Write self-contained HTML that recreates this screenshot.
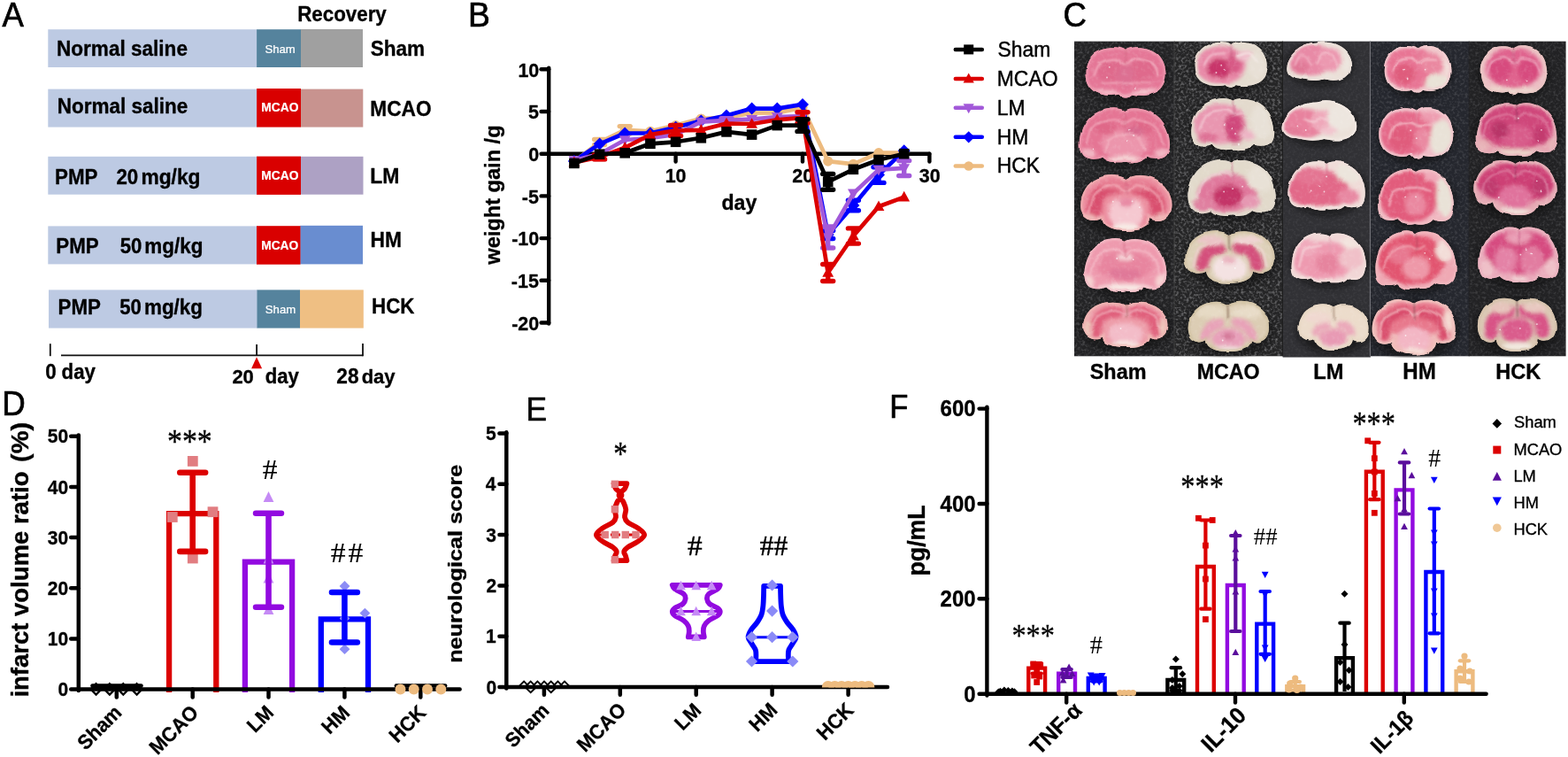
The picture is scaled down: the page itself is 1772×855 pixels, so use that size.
<!DOCTYPE html>
<html lang="en">
<head>
<meta charset="utf-8">
<title>Figure: PMP treatment in MCAO model</title>
<style>
html,body{margin:0;padding:0;background:#fff;}
body{width:1772px;height:855px;overflow:hidden;}
svg{display:block;}
text{white-space:pre;}
</style>
</head>
<body>
<svg width="1772" height="855" viewBox="0 0 1772 855">
<rect width="1772" height="855" fill="#fff"/>
<g id="panel-c">
<defs>
<filter id="cblur" x="-30%" y="-30%" width="160%" height="160%"><feGaussianBlur stdDeviation="2.3"/></filter>
<filter id="cband" x="-30%" y="-30%" width="160%" height="160%"><feGaussianBlur stdDeviation="0.9"/></filter>
<filter id="cedge" x="-2%" y="-2%" width="104%" height="104%"><feTurbulence type="fractalNoise" baseFrequency="0.045" numOctaves="2" seed="11" result="t"/><feDisplacementMap in="SourceGraphic" in2="t" scale="5" xChannelSelector="R" yChannelSelector="G" result="d"/><feGaussianBlur in="d" stdDeviation="0.7"/></filter>
<filter id="cgrain" x="0" y="0" width="100%" height="100%"><feTurbulence type="fractalNoise" baseFrequency="0.22" numOctaves="2" seed="3" result="n"/><feColorMatrix in="n" type="matrix" values="0 0 0 0 1  0 0 0 0 0.96  0 0 0 0 0.96  1.8 0 0 0 -0.82"/><feGaussianBlur stdDeviation="0.6"/></filter>
<filter id="cshadow" x="-30%" y="-30%" width="160%" height="160%"><feGaussianBlur stdDeviation="3.5"/></filter>
<filter id="cnoise" x="0" y="0" width="100%" height="100%"><feTurbulence type="fractalNoise" baseFrequency="0.34" numOctaves="2" seed="7" result="n"/><feColorMatrix in="n" type="matrix" values="0 0 0 0 0.56  0 0 0 0 0.56  0 0 0 0 0.58  2.4 0 0 0 -1.08"/><feGaussianBlur stdDeviation="0.45"/></filter>
<clipPath id="cpanel"><rect x="1214.0" y="46.4" width="555.6" height="357.4"/></clipPath>
<clipPath id="cb0"><path d="M1272.0 56.9C1277.5 51.7 1299.4 51.2 1309.4 62.1C1319.4 72.5 1320.3 91.0 1311.2 100.2C1303.0 108.3 1286.6 108.9 1279.3 106.6C1275.6 110.6 1268.4 110.6 1264.7 106.6C1257.4 108.9 1241.0 108.3 1232.8 100.2C1223.7 91.0 1224.6 72.5 1234.6 62.1C1244.6 51.2 1266.5 51.7 1272.0 56.9Z"/></clipPath>
<clipPath id="cb1"><path d="M1270.8 125.2C1279.1 119.5 1303.8 121.4 1315.1 138.9C1322.3 150.2 1324.4 166.4 1319.2 173.9C1315.1 180.8 1301.7 180.8 1295.5 177.7C1289.4 183.9 1277.0 183.9 1270.8 182.7C1264.7 183.9 1252.3 183.9 1246.2 177.7C1240.0 180.8 1226.6 180.8 1222.5 173.9C1217.3 166.4 1219.4 150.2 1226.6 138.9C1237.9 121.4 1262.6 119.5 1270.8 125.2Z"/></clipPath>
<clipPath id="cb2"><path d="M1272.3 202.1C1282.7 195.0 1307.6 196.3 1318.0 213.1C1326.3 226.1 1324.2 240.3 1318.0 245.5C1311.8 250.6 1303.5 249.4 1300.3 246.8C1299.3 258.4 1284.8 261.0 1272.3 261.0C1259.9 261.0 1245.4 258.4 1244.4 246.8C1241.2 249.4 1232.9 250.6 1226.7 245.5C1220.5 240.3 1218.4 226.1 1226.7 213.1C1237.1 196.3 1262.0 195.0 1272.3 202.1Z"/></clipPath>
<clipPath id="cb3"><path d="M1271.4 271.8C1278.8 266.1 1301.0 268.0 1311.1 285.5C1317.6 296.8 1319.4 313.0 1314.8 320.5C1311.1 327.4 1299.1 327.4 1293.6 324.2C1288.0 330.5 1276.9 330.5 1271.4 329.2C1265.9 330.5 1254.8 330.5 1249.2 324.2C1243.7 327.4 1231.7 327.4 1228.0 320.5C1223.4 313.0 1225.2 296.8 1231.7 285.5C1241.8 268.0 1264.0 266.1 1271.4 271.8Z"/></clipPath>
<clipPath id="cb4"><path d="M1272.3 344.1C1282.1 338.3 1305.5 339.4 1315.2 353.1C1323.0 363.6 1321.1 375.2 1315.2 379.4C1309.4 383.6 1301.6 382.5 1298.7 380.4C1297.7 389.9 1284.0 392.0 1272.3 392.0C1260.6 392.0 1247.0 389.9 1246.0 380.4C1243.1 382.5 1235.3 383.6 1229.4 379.4C1223.6 375.2 1221.6 363.6 1229.4 353.1C1239.2 339.4 1262.6 338.3 1272.3 344.1Z"/></clipPath>
<clipPath id="cb5"><path d="M1391.2 51.3C1396.1 46.7 1416.1 46.1 1425.2 56.0C1434.4 65.3 1435.2 82.0 1426.9 90.3C1419.4 97.5 1404.4 98.0 1397.8 96.0C1394.5 99.6 1387.8 99.6 1384.5 96.0C1377.9 98.0 1362.9 97.5 1355.4 90.3C1347.1 82.0 1347.9 65.3 1357.1 56.0C1366.2 46.1 1386.2 46.7 1391.2 51.3Z"/></clipPath>
<clipPath id="cb6"><path d="M1393.2 113.8C1400.8 108.4 1423.4 110.2 1433.8 126.9C1440.4 137.6 1442.3 153.1 1437.6 160.3C1433.8 166.8 1421.5 166.8 1415.9 163.8C1410.2 169.8 1398.9 169.8 1393.2 168.6C1387.6 169.8 1376.3 169.8 1370.6 163.8C1365.0 166.8 1352.7 166.8 1348.9 160.3C1344.2 153.1 1346.1 137.6 1352.7 126.9C1363.1 110.2 1385.7 108.4 1393.2 113.8Z"/></clipPath>
<clipPath id="cb7"><path d="M1392.1 183.8C1400.1 178.0 1424.0 179.9 1435.0 198.0C1442.0 209.7 1444.0 226.5 1439.0 234.2C1435.0 241.4 1422.0 241.4 1416.1 238.1C1410.1 244.6 1398.1 244.6 1392.1 243.3C1386.1 244.6 1374.1 244.6 1368.1 238.1C1362.2 241.4 1349.2 241.4 1345.2 234.2C1340.2 226.5 1342.2 209.7 1349.2 198.0C1360.2 179.9 1384.1 178.0 1392.1 183.8Z"/></clipPath>
<clipPath id="cb8"><path d="M1389.6 265.0C1399.7 258.4 1424.1 259.6 1434.3 275.3C1442.4 287.3 1440.4 300.6 1434.3 305.4C1428.2 310.3 1420.1 309.0 1417.0 306.6C1416.0 317.5 1401.8 319.9 1389.6 319.9C1377.3 319.9 1363.1 317.5 1362.1 306.6C1359.0 309.0 1350.9 310.3 1344.8 305.4C1338.7 300.6 1336.7 287.3 1344.8 275.3C1355.0 259.6 1379.4 258.4 1389.6 265.0Z"/></clipPath>
<clipPath id="cb9"><path d="M1388.3 344.3C1397.8 337.9 1420.5 339.1 1430.0 354.2C1437.6 365.8 1435.7 378.5 1430.0 383.2C1424.3 387.8 1416.8 386.7 1413.9 384.3C1413.0 394.8 1399.7 397.1 1388.3 397.1C1377.0 397.1 1363.7 394.8 1362.8 384.3C1359.9 386.7 1352.4 387.8 1346.7 383.2C1341.0 378.5 1339.1 365.8 1346.7 354.2C1356.2 339.1 1378.9 337.9 1388.3 344.3Z"/></clipPath>
<clipPath id="cb10"><path d="M1487.4 48.8C1499.9 45.2 1517.5 49.7 1524.0 62.3C1529.2 72.1 1527.7 82.9 1520.4 87.4C1513.1 91.9 1502.8 91.0 1495.5 89.2C1488.2 91.9 1476.5 91.0 1467.7 88.3C1458.9 87.4 1453.0 82.9 1454.5 74.8C1456.0 62.3 1469.1 49.7 1487.4 48.8Z"/></clipPath>
<clipPath id="cb11"><path d="M1487.2 115.5C1501.3 111.9 1521.3 116.5 1528.7 129.4C1534.6 139.5 1532.9 150.6 1524.6 155.2C1516.3 159.8 1504.6 158.9 1496.3 157.0C1488.0 159.8 1474.7 158.9 1464.8 156.1C1454.8 155.2 1448.1 150.6 1449.8 142.3C1451.5 129.4 1466.4 116.5 1487.2 115.5Z"/></clipPath>
<clipPath id="cb12"><path d="M1499.1 184.9C1506.1 179.8 1527.1 181.5 1536.8 197.3C1542.9 207.5 1544.7 222.2 1540.3 229.0C1536.8 235.2 1525.4 235.2 1520.1 232.3C1514.8 238.0 1504.3 238.0 1499.1 236.9C1493.8 238.0 1483.3 238.0 1478.0 232.3C1472.7 235.2 1461.3 235.2 1457.8 229.0C1453.4 222.2 1455.2 207.5 1461.3 197.3C1471.0 181.5 1492.0 179.8 1499.1 184.9Z"/></clipPath>
<clipPath id="cb13"><path d="M1501.8 266.0C1508.5 260.9 1528.9 262.6 1538.2 278.6C1544.1 289.0 1545.8 303.9 1541.6 310.7C1538.2 317.0 1527.2 317.0 1522.1 314.2C1517.0 319.9 1506.8 319.9 1501.8 318.8C1496.7 319.9 1486.5 319.9 1481.4 314.2C1476.3 317.0 1465.3 317.0 1461.9 310.7C1457.7 303.9 1459.4 289.0 1465.3 278.6C1474.6 262.6 1495.0 260.9 1501.8 266.0Z"/></clipPath>
<clipPath id="cb14"><path d="M1507.0 347.6C1515.0 341.9 1534.3 342.9 1542.3 356.4C1548.7 366.8 1547.1 378.2 1542.3 382.3C1537.5 386.5 1531.1 385.5 1528.7 383.4C1527.9 392.7 1516.6 394.8 1507.0 394.8C1497.4 394.8 1486.1 392.7 1485.3 383.4C1482.9 385.5 1476.5 386.5 1471.7 382.3C1466.9 378.2 1465.3 366.8 1471.7 356.4C1479.7 342.9 1499.0 341.9 1507.0 347.6Z"/></clipPath>
<clipPath id="cb15"><path d="M1602.1 55.5C1606.6 50.6 1624.5 50.1 1632.8 60.3C1641.0 70.0 1641.7 87.2 1634.3 95.8C1627.5 103.3 1614.1 103.9 1608.1 101.7C1605.1 105.5 1599.1 105.5 1596.1 101.7C1590.1 103.9 1576.7 103.3 1569.9 95.8C1562.5 87.2 1563.2 70.0 1571.4 60.3C1579.7 50.1 1597.6 50.6 1602.1 55.5Z"/></clipPath>
<clipPath id="cb16"><path d="M1600.8 124.8C1605.8 119.5 1625.7 118.9 1634.8 130.2C1644.0 140.8 1644.8 159.8 1636.5 169.2C1629.0 177.5 1614.1 178.1 1607.4 175.8C1604.1 179.9 1597.5 179.9 1594.2 175.8C1587.5 178.1 1572.6 177.5 1565.1 169.2C1556.8 159.8 1557.6 140.8 1566.8 130.2C1575.9 118.9 1595.8 119.5 1600.8 124.8Z"/></clipPath>
<clipPath id="cb17"><path d="M1600.0 194.1C1606.9 188.3 1627.5 190.2 1637.0 208.2C1643.0 219.7 1644.7 236.4 1640.4 244.1C1637.0 251.2 1625.8 251.2 1620.6 248.0C1615.5 254.4 1605.2 254.4 1600.0 253.1C1594.8 254.4 1584.5 254.4 1579.4 248.0C1574.2 251.2 1563.0 251.2 1559.6 244.1C1555.3 236.4 1557.0 219.7 1563.0 208.2C1572.5 190.2 1593.1 188.3 1600.0 194.1Z"/></clipPath>
<clipPath id="cb18"><path d="M1600.0 264.3C1607.3 258.3 1629.3 260.3 1639.4 278.8C1645.8 290.8 1647.6 308.0 1643.1 315.9C1639.4 323.2 1627.5 323.2 1622.0 319.9C1616.5 326.5 1605.5 326.5 1600.0 325.2C1594.5 326.5 1583.5 326.5 1578.0 319.9C1572.5 323.2 1560.6 323.2 1556.9 315.9C1552.4 308.0 1554.2 290.8 1560.6 278.8C1570.7 260.3 1592.7 258.3 1600.0 264.3Z"/></clipPath>
<clipPath id="cb19"><path d="M1598.1 342.7C1607.7 335.7 1630.9 337.0 1640.5 353.5C1648.2 366.3 1646.3 380.2 1640.5 385.3C1634.7 390.4 1627.0 389.2 1624.1 386.6C1623.2 398.1 1609.7 400.6 1598.1 400.6C1586.5 400.6 1573.0 398.1 1572.1 386.6C1569.2 389.2 1561.5 390.4 1555.7 385.3C1549.9 380.2 1548.0 366.3 1555.7 353.5C1565.3 337.0 1588.5 335.7 1598.1 342.7Z"/></clipPath>
<clipPath id="cb20"><path d="M1710.5 55.7C1715.0 50.6 1733.2 50.0 1741.5 60.8C1749.8 70.9 1750.6 89.1 1743.0 98.1C1736.2 106.0 1722.6 106.6 1716.5 104.3C1713.5 108.3 1707.5 108.3 1704.5 104.3C1698.4 106.6 1684.8 106.0 1678.0 98.1C1670.4 89.1 1671.2 70.9 1679.5 60.8C1687.8 50.0 1706.0 50.6 1710.5 55.7Z"/></clipPath>
<clipPath id="cb21"><path d="M1714.0 119.0C1721.5 113.5 1743.8 115.3 1754.0 132.4C1760.5 143.4 1762.4 159.3 1757.7 166.6C1754.0 173.3 1741.9 173.3 1736.3 170.3C1730.8 176.4 1719.6 176.4 1714.0 175.2C1708.5 176.4 1697.3 176.4 1691.8 170.3C1686.2 173.3 1674.1 173.3 1670.4 166.6C1665.7 159.3 1667.6 143.4 1674.1 132.4C1684.3 115.3 1706.6 113.5 1714.0 119.0Z"/></clipPath>
<clipPath id="cb22"><path d="M1712.5 186.0C1721.9 179.2 1744.3 180.4 1753.7 196.6C1761.2 209.1 1759.3 222.8 1753.7 227.7C1748.1 232.7 1740.6 231.5 1737.8 229.0C1736.8 240.2 1723.7 242.7 1712.5 242.7C1701.3 242.7 1688.2 240.2 1687.2 229.0C1684.4 231.5 1676.9 232.7 1671.3 227.7C1665.7 222.8 1663.8 209.1 1671.3 196.6C1680.7 180.4 1703.1 179.2 1712.5 186.0Z"/></clipPath>
<clipPath id="cb23"><path d="M1716.6 259.4C1723.9 253.7 1745.7 255.6 1755.7 273.5C1762.1 285.0 1763.9 301.6 1759.4 309.3C1755.7 316.3 1743.9 316.3 1738.4 313.1C1733.0 319.5 1722.1 319.5 1716.6 318.2C1711.1 319.5 1700.2 319.5 1694.8 313.1C1689.3 316.3 1677.5 316.3 1673.8 309.3C1669.3 301.6 1671.1 285.0 1677.5 273.5C1687.5 255.6 1709.3 253.7 1716.6 259.4Z"/></clipPath>
<clipPath id="cb24"><path d="M1714.2 340.7C1723.3 333.9 1744.9 335.1 1753.9 351.2C1761.1 363.6 1759.3 377.3 1753.9 382.2C1748.5 387.2 1741.3 385.9 1738.6 383.5C1737.7 394.6 1725.1 397.1 1714.2 397.1C1703.4 397.1 1690.8 394.6 1689.9 383.5C1687.2 385.9 1680.0 387.2 1674.6 382.2C1669.2 377.3 1667.4 363.6 1674.6 351.2C1683.6 335.1 1705.2 333.9 1714.2 340.7Z"/></clipPath>
</defs>
<g clip-path="url(#cpanel)">
<rect x="1214.0" y="46.4" width="113.5" height="355.9" fill="#232325"/>
<rect x="1327.0" y="46.4" width="123.1" height="355.9" fill="#252526"/>
<rect x="1449.6" y="46.4" width="99.3" height="357.3" fill="#313135"/>
<rect x="1548.4" y="46.4" width="112.1" height="355.9" fill="#25272e"/>
<rect x="1660.0" y="46.4" width="110.1" height="355.9" fill="#222224"/>
<rect x="1214.0" y="46.4" width="113" height="355.9" filter="url(#cnoise)" opacity="0.28"/>
<rect x="1327" y="46.4" width="122.6" height="355.9" filter="url(#cnoise)" opacity="0.5"/>
<rect x="1449.6" y="46.4" width="99" height="355.9" filter="url(#cnoise)" opacity="0.1"/>
<rect x="1548.4" y="46.4" width="221.2" height="355.9" filter="url(#cnoise)" opacity="0.2"/>
<path d="M1327 46.4V402.3" stroke="#474747" stroke-width="0.8"/>
<path d="M1449.4 46.4V402.3" stroke="#1e1e1e" stroke-width="1.2"/>
<path d="M1548.4 46.4V402.3" stroke="#7a7a80" stroke-width="1"/>
<path d="M1660 46.4V402.3" stroke="#222226" stroke-width="1.2" opacity="0.6"/>
<g filter="url(#cshadow)" opacity="0.6">
<ellipse cx="1272.0" cy="85.2" rx="47.1" ry="30.3" fill="#0c0c0c"/>
<ellipse cx="1270.8" cy="156.2" rx="52.9" ry="32.8" fill="#0c0c0c"/>
<ellipse cx="1272.3" cy="232.2" rx="53.4" ry="33.8" fill="#0c0c0c"/>
<ellipse cx="1271.4" cy="302.8" rx="47.7" ry="32.8" fill="#0c0c0c"/>
<ellipse cx="1272.3" cy="369.2" rx="50.2" ry="27.8" fill="#0c0c0c"/>
<ellipse cx="1391.2" cy="77.2" rx="43.1" ry="27.4" fill="#0c0c0c"/>
<ellipse cx="1393.2" cy="143.5" rx="48.7" ry="31.3" fill="#0c0c0c"/>
<ellipse cx="1392.1" cy="215.8" rx="51.4" ry="33.8" fill="#0c0c0c"/>
<ellipse cx="1389.6" cy="293.2" rx="52.4" ry="31.6" fill="#0c0c0c"/>
<ellipse cx="1388.3" cy="371.6" rx="48.9" ry="30.5" fill="#0c0c0c"/>
<ellipse cx="1491.1" cy="73.0" rx="38.1" ry="24.0" fill="#0c0c0c"/>
<ellipse cx="1491.3" cy="140.2" rx="43.1" ry="24.6" fill="#0c0c0c"/>
<ellipse cx="1499.1" cy="213.2" rx="45.4" ry="29.8" fill="#0c0c0c"/>
<ellipse cx="1501.8" cy="294.8" rx="43.8" ry="30.1" fill="#0c0c0c"/>
<ellipse cx="1507.0" cy="372.4" rx="41.6" ry="27.5" fill="#0c0c0c"/>
<ellipse cx="1602.1" cy="82.1" rx="38.9" ry="28.4" fill="#0c0c0c"/>
<ellipse cx="1600.8" cy="153.8" rx="43.0" ry="31.1" fill="#0c0c0c"/>
<ellipse cx="1600.0" cy="225.8" rx="44.5" ry="33.6" fill="#0c0c0c"/>
<ellipse cx="1600.0" cy="296.9" rx="47.3" ry="34.6" fill="#0c0c0c"/>
<ellipse cx="1598.1" cy="372.3" rx="49.7" ry="33.3" fill="#0c0c0c"/>
<ellipse cx="1710.5" cy="83.5" rx="39.3" ry="29.8" fill="#0c0c0c"/>
<ellipse cx="1714.0" cy="149.3" rx="48.0" ry="32.1" fill="#0c0c0c"/>
<ellipse cx="1712.5" cy="215.1" rx="48.3" ry="32.6" fill="#0c0c0c"/>
<ellipse cx="1716.6" cy="291.1" rx="47.0" ry="33.5" fill="#0c0c0c"/>
<ellipse cx="1714.2" cy="369.6" rx="46.5" ry="32.5" fill="#0c0c0c"/>
</g>
<g filter="url(#cedge)">
<g clip-path="url(#cb0)"><rect x="1224.4" y="50.9" width="95.2" height="61.7" fill="#e57797"/>
<g filter="url(#cblur)">
<ellipse cx="1253.8" cy="79.4" rx="15.5" ry="12.7" fill="#df6a8c"/>
<ellipse cx="1290.2" cy="79.4" rx="15.5" ry="12.7" fill="#df6a8c"/>
<ellipse cx="1272.0" cy="85.2" rx="9.1" ry="11.5" fill="#dd7092"/>
<ellipse cx="1249.2" cy="106.6" rx="18.2" ry="4.6" fill="#f4c8cf"/>
<ellipse cx="1294.8" cy="105.4" rx="18.2" ry="4.6" fill="#f4c8cf"/>
<ellipse cx="1272.0" cy="108.9" rx="9.1" ry="3.5" fill="#f1c2ca"/>
</g>
<g filter="url(#cband)" fill="none" stroke-linecap="round">
<path d="M1272.0 56.9C1277.5 51.7 1299.4 51.2 1309.4 62.1C1319.4 72.5 1320.3 91.0 1311.2 100.2C1303.0 108.3 1286.6 108.9 1279.3 106.6C1275.6 110.6 1268.4 110.6 1264.7 106.6C1257.4 108.9 1241.0 108.3 1232.8 100.2C1223.7 91.0 1224.6 72.5 1234.6 62.1C1244.6 51.2 1266.5 51.7 1272.0 56.9Z" stroke="#ee9cb0" stroke-width="4.5" opacity="0.85"/>
<path d="M1235.5 85.2C1236.7 82.9 1238.6 74.4 1242.8 71.4C1247.1 68.3 1256.2 66.4 1261.1 66.7C1265.9 67.1 1268.4 73.7 1272.0 73.7C1275.6 73.7 1278.1 67.1 1282.9 66.7C1287.8 66.4 1296.9 68.3 1301.2 71.4C1305.4 74.4 1307.3 82.9 1308.5 85.2" stroke="#f3aebf" stroke-width="2.0"/>
<path d="M1244.6 94.4C1249.2 94.3 1262.9 93.3 1272.0 93.3C1281.1 93.3 1294.8 94.3 1299.4 94.4" stroke="#f0a8ba" stroke-width="1.4"/>
<path d="M1272.0 54.1L1272.6 73.7" stroke="#d0607c" stroke-width="1.3" opacity="0.8"/>
</g>
<rect x="1224.4" y="50.9" width="95.2" height="61.7" filter="url(#cgrain)" opacity="0.16"/>
<circle cx="1251.0" cy="87.5" r="0.9" fill="#fff" opacity="0.7"/>
<circle cx="1282.9" cy="99.1" r="0.9" fill="#fff" opacity="0.7"/>
<circle cx="1253.8" cy="74.8" r="0.9" fill="#fff" opacity="0.7"/>
</g>
<g clip-path="url(#cb1)"><rect x="1217.4" y="119.4" width="106.9" height="66.5" fill="#e57594"/>
<g filter="url(#cblur)">
<ellipse cx="1270.8" cy="162.7" rx="26.8" ry="16.2" fill="#ec95ac"/>
<ellipse cx="1270.8" cy="180.8" rx="20.6" ry="4.4" fill="#f6d8d8"/>
<ellipse cx="1228.7" cy="173.9" rx="9.3" ry="6.2" fill="#f2b6c2"/>
<ellipse cx="1313.0" cy="173.9" rx="9.3" ry="6.2" fill="#f2b6c2"/>
<ellipse cx="1250.3" cy="143.9" rx="12.3" ry="7.5" fill="#df6888"/>
<ellipse cx="1291.4" cy="143.9" rx="12.3" ry="7.5" fill="#df6888"/>
<ellipse cx="1281.1" cy="149.5" rx="10.3" ry="5.0" fill="#d86a8e"/>
</g>
<g filter="url(#cband)" fill="none" stroke-linecap="round">
<path d="M1270.8 125.2C1279.1 119.5 1303.8 121.4 1315.1 138.9C1322.3 150.2 1324.4 166.4 1319.2 173.9C1315.1 180.8 1301.7 180.8 1295.5 177.7C1289.4 183.9 1277.0 183.9 1270.8 182.7C1264.7 183.9 1252.3 183.9 1246.2 177.7C1240.0 180.8 1226.6 180.8 1222.5 173.9C1217.3 166.4 1219.4 150.2 1226.6 138.9C1237.9 121.4 1262.6 119.5 1270.8 125.2Z" stroke="#ee9eb0" stroke-width="4.5" opacity="0.85"/>
<path d="M1227.6 162.7C1229.0 159.3 1230.4 147.2 1235.9 142.7C1241.4 138.1 1254.7 135.6 1260.6 135.2C1266.4 134.7 1267.4 140.2 1270.8 140.2C1274.3 140.2 1275.3 134.7 1281.1 135.2C1287.0 135.6 1300.3 138.1 1305.8 142.7C1311.3 147.2 1312.7 159.3 1314.1 162.7" stroke="#f2a8ba" stroke-width="1.8"/>
<path d="M1248.2 171.4C1249.2 168.9 1250.6 159.5 1254.4 156.4C1258.2 153.3 1265.4 152.7 1270.8 152.7C1276.3 152.7 1283.5 153.3 1287.3 156.4C1291.1 159.5 1292.5 168.9 1293.5 171.4" stroke="#f4b4c2" stroke-width="1.4"/>
<path d="M1270.8 122.7L1271.4 143.9" stroke="#d0607c" stroke-width="1.3" opacity="0.8"/>
</g>
<rect x="1217.4" y="119.4" width="106.9" height="66.5" filter="url(#cgrain)" opacity="0.16"/>
<circle cx="1276.0" cy="147.7" r="0.9" fill="#fff" opacity="0.7"/>
<circle cx="1281.1" cy="153.9" r="0.9" fill="#fff" opacity="0.7"/>
<circle cx="1234.8" cy="168.3" r="0.9" fill="#fff" opacity="0.7"/>
<circle cx="1272.9" cy="160.2" r="0.9" fill="#fff" opacity="0.7"/>
</g>
<g clip-path="url(#cb2)"><rect x="1218.5" y="194.3" width="107.7" height="68.7" fill="#ec8fa0"/>
<g filter="url(#cblur)">
<path d="M1262.0 211.8C1259.6 212.5 1251.4 213.3 1247.5 215.7C1243.5 218.1 1240.0 222.2 1238.1 226.1C1236.2 229.9 1236.4 236.8 1236.1 239.0" fill="none" stroke="#d9506e" stroke-width="15.6" stroke-linecap="round"/>
<path d="M1282.7 211.8C1285.1 212.5 1293.3 213.3 1297.2 215.7C1301.2 218.1 1304.7 222.2 1306.6 226.1C1308.5 229.9 1308.3 236.8 1308.6 239.0" fill="none" stroke="#d9506e" stroke-width="15.6" stroke-linecap="round"/>
<ellipse cx="1272.3" cy="209.2" rx="31.1" ry="6.5" fill="#e67a90"/>
<ellipse cx="1272.3" cy="240.3" rx="20.7" ry="16.8" fill="#f5c8d0"/>
<ellipse cx="1272.3" cy="228.7" rx="8.3" ry="5.2" fill="#e88aa4"/>
<ellipse cx="1272.3" cy="257.8" rx="16.6" ry="5.2" fill="#f8ece6"/>
<ellipse cx="1230.9" cy="248.1" rx="9.3" ry="6.5" fill="#f2bcbc"/>
<ellipse cx="1313.8" cy="248.1" rx="9.3" ry="6.5" fill="#f2bcbc"/>
</g>
<g filter="url(#cband)" fill="none" stroke-linecap="round">
<path d="M1272.3 202.1C1282.7 195.0 1307.6 196.3 1318.0 213.1C1326.3 226.1 1324.2 240.3 1318.0 245.5C1311.8 250.6 1303.5 249.4 1300.3 246.8C1299.3 258.4 1284.8 261.0 1272.3 261.0C1259.9 261.0 1245.4 258.4 1244.4 246.8C1241.2 249.4 1232.9 250.6 1226.7 245.5C1220.5 240.3 1218.4 226.1 1226.7 213.1C1237.1 196.3 1262.0 195.0 1272.3 202.1Z" stroke="#f0b0b2" stroke-width="4.5" opacity="0.85"/>
<path d="M1230.9 241.6C1231.9 237.9 1232.3 225.0 1237.1 219.6C1241.9 214.2 1254.0 209.9 1259.9 209.2C1265.8 208.6 1268.2 215.7 1272.3 215.7C1276.5 215.7 1278.9 208.6 1284.8 209.2C1290.7 209.9 1302.8 214.2 1307.6 219.6C1312.4 225.0 1312.8 237.9 1313.8 241.6" stroke="#f4b0ba" stroke-width="1.8"/>
<path d="M1272.3 197.6L1272.9 219.6" stroke="#d0607c" stroke-width="1.3" opacity="0.8"/>
</g>
<rect x="1218.5" y="194.3" width="107.7" height="68.7" filter="url(#cgrain)" opacity="0.16"/>
<circle cx="1257.8" cy="228.7" r="0.9" fill="#fff" opacity="0.7"/>
<circle cx="1278.6" cy="227.4" r="0.9" fill="#fff" opacity="0.7"/>
<circle cx="1288.9" cy="235.1" r="0.9" fill="#fff" opacity="0.7"/>
</g>
<g clip-path="url(#cb3)"><rect x="1223.2" y="266.0" width="96.4" height="66.5" fill="#ee9aae"/>
<g filter="url(#cblur)">
<ellipse cx="1271.4" cy="300.5" rx="31.4" ry="16.2" fill="#e8859f"/>
<ellipse cx="1271.4" cy="290.5" rx="9.2" ry="3.8" fill="#f6d4d8"/>
<ellipse cx="1271.4" cy="326.1" rx="31.4" ry="5.6" fill="#f8e8e4"/>
<ellipse cx="1230.7" cy="318.0" rx="6.5" ry="8.8" fill="#f6d2d2"/>
<ellipse cx="1312.1" cy="318.0" rx="6.5" ry="8.8" fill="#f6d2d2"/>
<ellipse cx="1271.4" cy="309.2" rx="18.5" ry="6.2" fill="#e07898"/>
</g>
<g filter="url(#cband)" fill="none" stroke-linecap="round">
<path d="M1271.4 271.8C1278.8 266.1 1301.0 268.0 1311.1 285.5C1317.6 296.8 1319.4 313.0 1314.8 320.5C1311.1 327.4 1299.1 327.4 1293.6 324.2C1288.0 330.5 1276.9 330.5 1271.4 329.2C1265.9 330.5 1254.8 330.5 1249.2 324.2C1243.7 327.4 1231.7 327.4 1228.0 320.5C1223.4 313.0 1225.2 296.8 1231.7 285.5C1241.8 268.0 1264.0 266.1 1271.4 271.8Z" stroke="#f4bcc6" stroke-width="4.5" opacity="0.85"/>
<path d="M1232.6 309.2C1233.8 305.9 1235.1 293.8 1240.0 289.2C1244.9 284.7 1256.9 282.2 1262.2 281.8C1267.4 281.3 1268.3 286.8 1271.4 286.8C1274.5 286.8 1275.4 281.3 1280.6 281.8C1285.9 282.2 1297.9 284.7 1302.8 289.2C1307.7 293.8 1309.0 305.9 1310.2 309.2" stroke="#f5bcc8" stroke-width="1.8"/>
<path d="M1271.4 269.2L1272.0 290.5" stroke="#d0607c" stroke-width="1.3" opacity="0.8"/>
</g>
<rect x="1223.2" y="266.0" width="96.4" height="66.5" filter="url(#cgrain)" opacity="0.16"/>
<circle cx="1262.2" cy="293.0" r="0.9" fill="#fff" opacity="0.7"/>
<circle cx="1280.6" cy="294.2" r="0.9" fill="#fff" opacity="0.7"/>
</g>
<g clip-path="url(#cb4)"><rect x="1221.6" y="337.4" width="101.5" height="56.6" fill="#ed9ca8"/>
<g filter="url(#cblur)">
<path d="M1262.6 352.0C1260.3 352.6 1252.7 353.3 1248.9 355.2C1245.2 357.1 1242.0 360.4 1240.2 363.6C1238.4 366.8 1238.5 372.4 1238.2 374.1" fill="none" stroke="#e0607c" stroke-width="13.7" stroke-linecap="round"/>
<path d="M1282.1 352.0C1284.4 352.6 1292.0 353.3 1295.8 355.2C1299.5 357.1 1302.7 360.4 1304.5 363.6C1306.3 366.8 1306.1 372.4 1306.5 374.1" fill="none" stroke="#e0607c" stroke-width="13.7" stroke-linecap="round"/>
<ellipse cx="1272.3" cy="377.3" rx="19.5" ry="12.6" fill="#f3bcc8"/>
<ellipse cx="1272.3" cy="389.9" rx="17.6" ry="4.2" fill="#f7e8e4"/>
<ellipse cx="1229.4" cy="371.0" rx="4.9" ry="10.5" fill="#eec4ba"/>
<ellipse cx="1315.2" cy="371.0" rx="4.9" ry="10.5" fill="#eec4ba"/>
</g>
<g filter="url(#cband)" fill="none" stroke-linecap="round">
<path d="M1272.3 344.1C1282.1 338.3 1305.5 339.4 1315.2 353.1C1323.0 363.6 1321.1 375.2 1315.2 379.4C1309.4 383.6 1301.6 382.5 1298.7 380.4C1297.7 389.9 1284.0 392.0 1272.3 392.0C1260.6 392.0 1247.0 389.9 1246.0 380.4C1243.1 382.5 1235.3 383.6 1229.4 379.4C1223.6 375.2 1221.6 363.6 1229.4 353.1C1239.2 339.4 1262.6 338.3 1272.3 344.1Z" stroke="#f0b8b4" stroke-width="4.5" opacity="0.85"/>
<path d="M1233.3 376.2C1234.3 373.2 1234.6 362.7 1239.2 358.3C1243.7 354.0 1255.1 350.4 1260.6 349.9C1266.2 349.4 1268.4 355.2 1272.3 355.2C1276.2 355.2 1278.5 349.4 1284.0 349.9C1289.6 350.4 1301.0 354.0 1305.5 358.3C1310.0 362.7 1310.4 373.2 1311.3 376.2" stroke="#f2b4be" stroke-width="1.6"/>
<path d="M1272.3 340.5L1272.9 358.3" stroke="#9c5a58" stroke-width="1.3" opacity="0.8"/>
</g>
<rect x="1221.6" y="337.4" width="101.5" height="56.6" filter="url(#cgrain)" opacity="0.16"/>
<circle cx="1267.5" cy="371.0" r="0.9" fill="#fff" opacity="0.7"/>
</g>
<g clip-path="url(#cb5)"><rect x="1347.6" y="45.7" width="87.1" height="55.9" fill="#e4dccf"/>
<g filter="url(#cblur)">
<ellipse cx="1379.5" cy="73.7" rx="28.3" ry="21.8" fill="#e88aa8"/>
<ellipse cx="1377.9" cy="76.8" rx="14.1" ry="10.9" fill="#c8356a"/>
<ellipse cx="1395.3" cy="71.6" rx="8.3" ry="12.5" fill="#d85a86"/>
<ellipse cx="1407.8" cy="63.3" rx="11.6" ry="6.2" fill="#efc0cc"/>
<ellipse cx="1420.2" cy="73.7" rx="10.0" ry="15.6" fill="#e8e0d6"/>
</g>
<g filter="url(#cband)" fill="none" stroke-linecap="round">
<path d="M1391.2 51.3C1396.1 46.7 1416.1 46.1 1425.2 56.0C1434.4 65.3 1435.2 82.0 1426.9 90.3C1419.4 97.5 1404.4 98.0 1397.8 96.0C1394.5 99.6 1387.8 99.6 1384.5 96.0C1377.9 98.0 1362.9 97.5 1355.4 90.3C1347.1 82.0 1347.9 65.3 1357.1 56.0C1366.2 46.1 1386.2 46.7 1391.2 51.3Z" stroke="#e6ddd2" stroke-width="4.5" opacity="0.85"/>
<path d="M1359.6 73.7C1361.0 71.7 1363.7 64.5 1367.9 62.2C1372.0 60.0 1381.7 60.5 1384.5 60.2" stroke="#f3c3d0" stroke-width="1.8"/>
<path d="M1397.8 63.3C1400.0 62.8 1407.2 58.9 1411.1 60.2C1415.0 61.4 1419.4 68.8 1421.1 70.5" stroke="#f6ece8" stroke-width="1.6"/>
<path d="M1391.2 48.7L1391.8 66.4" stroke="#c06080" stroke-width="1.3" opacity="0.8"/>
</g>
<rect x="1347.6" y="45.7" width="87.1" height="55.9" filter="url(#cgrain)" opacity="0.16"/>
<circle cx="1381.2" cy="73.7" r="0.9" fill="#fff" opacity="0.7"/>
<circle cx="1384.5" cy="78.8" r="0.9" fill="#fff" opacity="0.7"/>
<circle cx="1374.5" cy="82.0" r="0.9" fill="#fff" opacity="0.7"/>
</g>
<g clip-path="url(#cb6)"><rect x="1344.1" y="108.2" width="98.3" height="63.6" fill="#e3dacd"/>
<g filter="url(#cblur)">
<ellipse cx="1378.2" cy="140.0" rx="30.2" ry="22.6" fill="#e996b0"/>
<ellipse cx="1395.1" cy="144.8" rx="11.3" ry="16.7" fill="#d04a7c"/>
<ellipse cx="1365.0" cy="155.5" rx="11.3" ry="6.0" fill="#de7094"/>
<ellipse cx="1410.2" cy="151.9" rx="9.4" ry="6.0" fill="#edb4c4"/>
<ellipse cx="1426.3" cy="137.0" rx="13.2" ry="20.3" fill="#e8e1d7"/>
</g>
<g filter="url(#cband)" fill="none" stroke-linecap="round">
<path d="M1393.2 113.8C1400.8 108.4 1423.4 110.2 1433.8 126.9C1440.4 137.6 1442.3 153.1 1437.6 160.3C1433.8 166.8 1421.5 166.8 1415.9 163.8C1410.2 169.8 1398.9 169.8 1393.2 168.6C1387.6 169.8 1376.3 169.8 1370.6 163.8C1365.0 166.8 1352.7 166.8 1348.9 160.3C1344.2 153.1 1346.1 137.6 1352.7 126.9C1363.1 110.2 1385.7 108.4 1393.2 113.8Z" stroke="#e4dace" stroke-width="4.5" opacity="0.85"/>
<path d="M1355.5 146.0C1357.1 143.0 1359.9 131.7 1365.0 128.1C1370.0 124.5 1381.0 124.3 1385.7 124.5C1390.4 124.7 1390.4 128.7 1393.2 129.3C1396.1 129.9 1401.1 128.3 1402.7 128.1" stroke="#f4ccd6" stroke-width="1.8"/>
<path d="M1393.2 111.4L1393.8 131.7" stroke="#c46888" stroke-width="1.3" opacity="0.8"/>
</g>
<rect x="1344.1" y="108.2" width="98.3" height="63.6" filter="url(#cgrain)" opacity="0.16"/>
<circle cx="1393.2" cy="146.0" r="0.9" fill="#fff" opacity="0.7"/>
<circle cx="1397.0" cy="151.9" r="0.9" fill="#fff" opacity="0.7"/>
<circle cx="1398.9" cy="162.6" r="0.9" fill="#fff" opacity="0.7"/>
<circle cx="1383.8" cy="140.0" r="0.9" fill="#fff" opacity="0.7"/>
</g>
<g clip-path="url(#cb7)"><rect x="1340.2" y="177.9" width="103.8" height="68.7" fill="#e2dacb"/>
<g filter="url(#cblur)">
<ellipse cx="1387.1" cy="218.7" rx="33.9" ry="22.0" fill="#e0789c"/>
<ellipse cx="1388.1" cy="221.3" rx="17.0" ry="13.6" fill="#c43468"/>
<ellipse cx="1360.2" cy="231.7" rx="12.0" ry="6.5" fill="#e080a0"/>
<ellipse cx="1414.1" cy="228.4" rx="10.0" ry="7.8" fill="#e698b2"/>
<ellipse cx="1425.0" cy="200.6" rx="16.0" ry="15.5" fill="#e8e1d6"/>
</g>
<g filter="url(#cband)" fill="none" stroke-linecap="round">
<path d="M1392.1 183.8C1400.1 178.0 1424.0 179.9 1435.0 198.0C1442.0 209.7 1444.0 226.5 1439.0 234.2C1435.0 241.4 1422.0 241.4 1416.1 238.1C1410.1 244.6 1398.1 244.6 1392.1 243.3C1386.1 244.6 1374.1 244.6 1368.1 238.1C1362.2 241.4 1349.2 241.4 1345.2 234.2C1340.2 226.5 1342.2 209.7 1349.2 198.0C1360.2 179.9 1384.1 178.0 1392.1 183.8Z" stroke="#e2d9cc" stroke-width="4.5" opacity="0.85"/>
<path d="M1352.2 222.6C1353.8 219.2 1356.8 206.4 1362.2 201.9C1367.5 197.4 1379.1 195.6 1384.1 195.4C1389.1 195.2 1390.8 199.7 1392.1 200.6" stroke="#f2d0d8" stroke-width="1.6"/>
<path d="M1392.1 181.2L1392.7 203.2" stroke="#c46888" stroke-width="1.3" opacity="0.8"/>
</g>
<rect x="1340.2" y="177.9" width="103.8" height="68.7" filter="url(#cgrain)" opacity="0.16"/>
<circle cx="1382.1" cy="215.5" r="0.9" fill="#fff" opacity="0.7"/>
<circle cx="1392.1" cy="212.2" r="0.9" fill="#fff" opacity="0.7"/>
<circle cx="1404.1" cy="209.7" r="0.9" fill="#fff" opacity="0.7"/>
</g>
<g clip-path="url(#cb8)"><rect x="1336.7" y="257.6" width="105.7" height="64.3" fill="#ddd0b8"/>
<g filter="url(#cblur)">
<path d="M1379.4 280.1C1377.3 280.7 1370.4 281.7 1367.2 283.7C1364.0 285.7 1361.6 289.3 1360.1 292.2C1358.5 295.0 1358.4 299.2 1358.0 300.6" fill="none" stroke="#d4507c" stroke-width="13.2" stroke-linecap="round"/>
<path d="M1399.7 280.1C1401.8 280.7 1408.7 281.7 1411.9 283.7C1415.1 285.7 1417.5 289.3 1419.0 292.2C1420.6 295.0 1420.7 299.2 1421.1 300.6" fill="none" stroke="#d4507c" stroke-width="13.2" stroke-linecap="round"/>
<ellipse cx="1369.2" cy="271.7" rx="16.3" ry="4.8" fill="#ecc4c8"/>
<ellipse cx="1409.9" cy="271.7" rx="16.3" ry="4.8" fill="#f0d4d4"/>
<ellipse cx="1389.6" cy="303.0" rx="20.3" ry="14.5" fill="#f4e2e2"/>
<ellipse cx="1389.6" cy="293.4" rx="8.1" ry="4.8" fill="#eab4c0"/>
</g>
<g filter="url(#cband)" fill="none" stroke-linecap="round">
<path d="M1389.6 265.0C1399.7 258.4 1424.1 259.6 1434.3 275.3C1442.4 287.3 1440.4 300.6 1434.3 305.4C1428.2 310.3 1420.1 309.0 1417.0 306.6C1416.0 317.5 1401.8 319.9 1389.6 319.9C1377.3 319.9 1363.1 317.5 1362.1 306.6C1359.0 309.0 1350.9 310.3 1344.8 305.4C1338.7 300.6 1336.7 287.3 1344.8 275.3C1355.0 259.6 1379.4 258.4 1389.6 265.0Z" stroke="#d2c2a4" stroke-width="4.5" opacity="0.85"/>
<path d="M1348.9 300.6C1349.9 297.4 1350.2 285.9 1355.0 281.3C1359.7 276.7 1373.6 274.3 1377.3 272.9" stroke="#f0d0d0" stroke-width="2.0"/>
<path d="M1401.8 272.9C1405.5 274.3 1419.4 276.7 1424.1 281.3C1428.9 285.9 1429.2 297.4 1430.2 300.6" stroke="#f2dcd8" stroke-width="2.0"/>
<path d="M1389.6 260.8L1390.2 281.3" stroke="#6a4838" stroke-width="1.3" opacity="0.8"/>
</g>
<rect x="1336.7" y="257.6" width="105.7" height="64.3" filter="url(#cgrain)" opacity="0.16"/>
<circle cx="1381.4" cy="295.8" r="0.9" fill="#fff" opacity="0.7"/>
<circle cx="1395.7" cy="301.8" r="0.9" fill="#fff" opacity="0.7"/>
</g>
<g clip-path="url(#cb9)"><rect x="1339.0" y="337.1" width="98.7" height="62.0" fill="#dccdb4"/>
<g filter="url(#cblur)">
<path d="M1378.9 364.6C1377.3 365.2 1371.9 366.4 1369.4 368.1C1366.9 369.8 1365.0 372.9 1363.7 375.1C1362.5 377.2 1362.1 379.9 1361.8 380.9" fill="none" stroke="#e8a2b8" stroke-width="10.4" stroke-linecap="round"/>
<path d="M1397.8 364.6C1399.4 365.2 1404.8 366.4 1407.3 368.1C1409.8 369.8 1411.7 372.9 1413.0 375.1C1414.2 377.2 1414.6 379.9 1414.9 380.9" fill="none" stroke="#e8a2b8" stroke-width="10.4" stroke-linecap="round"/>
<ellipse cx="1388.3" cy="383.2" rx="18.9" ry="12.8" fill="#e8a0ba"/>
<ellipse cx="1388.3" cy="379.7" rx="6.6" ry="4.1" fill="#d47898"/>
<ellipse cx="1388.3" cy="394.8" rx="15.2" ry="3.5" fill="#f0e2de"/>
<ellipse cx="1369.4" cy="353.0" rx="17.0" ry="7.0" fill="#e6dac4"/>
<ellipse cx="1409.2" cy="353.0" rx="17.0" ry="7.0" fill="#e8dcc8"/>
</g>
<g filter="url(#cband)" fill="none" stroke-linecap="round">
<path d="M1388.3 344.3C1397.8 337.9 1420.5 339.1 1430.0 354.2C1437.6 365.8 1435.7 378.5 1430.0 383.2C1424.3 387.8 1416.8 386.7 1413.9 384.3C1413.0 394.8 1399.7 397.1 1388.3 397.1C1377.0 397.1 1363.7 394.8 1362.8 384.3C1359.9 386.7 1352.4 387.8 1346.7 383.2C1341.0 378.5 1339.1 365.8 1346.7 354.2C1356.2 339.1 1378.9 337.9 1388.3 344.3Z" stroke="#cfbfa0" stroke-width="4.5" opacity="0.85"/>
<path d="M1388.3 340.3L1388.9 360.0" stroke="#6a4838" stroke-width="1.3" opacity="0.8"/>
</g>
<rect x="1339.0" y="337.1" width="98.7" height="62.0" filter="url(#cgrain)" opacity="0.16"/>
<circle cx="1382.7" cy="385.5" r="0.9" fill="#fff" opacity="0.7"/>
</g>
<g clip-path="url(#cb10)"><rect x="1452.5" y="45.0" width="77.2" height="48.9" fill="#ebe0d8"/>
<g filter="url(#cblur)">
<ellipse cx="1480.9" cy="67.7" rx="24.9" ry="18.0" fill="#e88aa6"/>
<ellipse cx="1502.8" cy="67.7" rx="13.2" ry="13.5" fill="#ec98b0"/>
<ellipse cx="1469.1" cy="76.6" rx="10.2" ry="7.2" fill="#e07896"/>
<ellipse cx="1483.8" cy="90.1" rx="29.3" ry="3.1" fill="#ede6df"/>
<ellipse cx="1522.6" cy="67.2" rx="5.1" ry="13.5" fill="#ece5de"/>
</g>
<g filter="url(#cband)" fill="none" stroke-linecap="round">
<path d="M1487.4 48.8C1499.9 45.2 1517.5 49.7 1524.0 62.3C1529.2 72.1 1527.7 82.9 1520.4 87.4C1513.1 91.9 1502.8 91.0 1495.5 89.2C1488.2 91.9 1476.5 91.0 1467.7 88.3C1458.9 87.4 1453.0 82.9 1454.5 74.8C1456.0 62.3 1469.1 49.7 1487.4 48.8Z" stroke="#ebe1d9" stroke-width="4.5" opacity="0.85"/>
<path d="M1463.3 73.9C1464.3 72.1 1466.9 64.7 1469.1 63.2C1471.3 61.7 1474.3 63.2 1476.5 65.0C1478.7 66.8 1481.3 72.4 1482.3 73.9" stroke="#f3b8c8" stroke-width="1.6"/>
<path d="M1488.2 72.1C1489.4 70.5 1492.6 63.8 1495.5 62.3C1498.4 60.8 1503.1 61.2 1505.7 63.2C1508.4 65.1 1510.6 72.1 1511.6 73.9" stroke="#f4c2ce" stroke-width="1.6"/>
</g>
<rect x="1452.5" y="45.0" width="77.2" height="48.9" filter="url(#cgrain)" opacity="0.16"/>
</g>
<g clip-path="url(#cb11)"><rect x="1447.8" y="111.7" width="87.1" height="50.1" fill="#ebe1d9"/>
<g filter="url(#cblur)">
<ellipse cx="1473.1" cy="139.5" rx="24.9" ry="16.6" fill="#e8829e"/>
<ellipse cx="1461.4" cy="147.8" rx="10.0" ry="5.5" fill="#e47c98"/>
<ellipse cx="1493.0" cy="136.8" rx="11.6" ry="11.1" fill="#efa8ba"/>
<ellipse cx="1514.6" cy="133.1" rx="15.0" ry="13.8" fill="#ede6df"/>
<ellipse cx="1501.3" cy="147.8" rx="10.0" ry="4.6" fill="#f2c4ce"/>
</g>
<g filter="url(#cband)" fill="none" stroke-linecap="round">
<path d="M1487.2 115.5C1501.3 111.9 1521.3 116.5 1528.7 129.4C1534.6 139.5 1532.9 150.6 1524.6 155.2C1516.3 159.8 1504.6 158.9 1496.3 157.0C1488.0 159.8 1474.7 158.9 1464.8 156.1C1454.8 155.2 1448.1 150.6 1449.8 142.3C1451.5 129.4 1466.4 116.5 1487.2 115.5Z" stroke="#f3eae4" stroke-width="4.5" opacity="0.85"/>
<path d="M1474.7 134.0C1476.4 134.4 1481.9 136.8 1484.7 136.8C1487.5 136.8 1488.6 134.0 1491.3 134.0C1494.1 134.0 1499.7 136.3 1501.3 136.8" stroke="#f6d4da" stroke-width="1.6"/>
</g>
<rect x="1447.8" y="111.7" width="87.1" height="50.1" filter="url(#cgrain)" opacity="0.16"/>
<circle cx="1466.4" cy="142.3" r="0.9" fill="#fff" opacity="0.7"/>
<circle cx="1474.7" cy="146.0" r="0.9" fill="#fff" opacity="0.7"/>
</g>
<g clip-path="url(#cb12)"><rect x="1453.2" y="179.5" width="91.7" height="60.5" fill="#f0dcd8"/>
<g filter="url(#cblur)">
<ellipse cx="1490.3" cy="214.3" rx="35.1" ry="22.6" fill="#e26888"/>
<ellipse cx="1523.6" cy="222.2" rx="12.3" ry="9.0" fill="#e888a2"/>
<ellipse cx="1481.5" cy="198.4" rx="19.3" ry="9.0" fill="#e47492"/>
<ellipse cx="1525.4" cy="195.1" rx="15.8" ry="11.3" fill="#ece5dc"/>
<ellipse cx="1490.3" cy="235.7" rx="26.3" ry="3.4" fill="#f6e8e4"/>
</g>
<g filter="url(#cband)" fill="none" stroke-linecap="round">
<path d="M1499.1 184.9C1506.1 179.8 1527.1 181.5 1536.8 197.3C1542.9 207.5 1544.7 222.2 1540.3 229.0C1536.8 235.2 1525.4 235.2 1520.1 232.3C1514.8 238.0 1504.3 238.0 1499.1 236.9C1493.8 238.0 1483.3 238.0 1478.0 232.3C1472.7 235.2 1461.3 235.2 1457.8 229.0C1453.4 222.2 1455.2 207.5 1461.3 197.3C1471.0 181.5 1492.0 179.8 1499.1 184.9Z" stroke="#f0e0dc" stroke-width="4.5" opacity="0.85"/>
<path d="M1499.1 182.6L1499.7 201.8" stroke="#d46888" stroke-width="1.3" opacity="0.8"/>
</g>
<rect x="1453.2" y="179.5" width="91.7" height="60.5" filter="url(#cgrain)" opacity="0.16"/>
<circle cx="1490.3" cy="209.8" r="0.9" fill="#fff" opacity="0.7"/>
<circle cx="1495.5" cy="216.5" r="0.9" fill="#fff" opacity="0.7"/>
<circle cx="1481.5" cy="215.4" r="0.9" fill="#fff" opacity="0.7"/>
<circle cx="1499.1" cy="198.4" r="0.9" fill="#fff" opacity="0.7"/>
</g>
<g clip-path="url(#cb13)"><rect x="1457.4" y="260.6" width="88.7" height="61.3" fill="#f1d6d6"/>
<g filter="url(#cblur)">
<ellipse cx="1495.0" cy="294.1" rx="33.9" ry="21.8" fill="#ee9ab0"/>
<ellipse cx="1500.1" cy="298.1" rx="13.6" ry="11.5" fill="#e6849e"/>
<ellipse cx="1527.2" cy="291.2" rx="13.6" ry="12.6" fill="#f0c0c8"/>
<ellipse cx="1476.3" cy="279.8" rx="13.6" ry="9.2" fill="#f0aabc"/>
<ellipse cx="1527.2" cy="274.1" rx="11.9" ry="6.9" fill="#f3e4de"/>
</g>
<g filter="url(#cband)" fill="none" stroke-linecap="round">
<path d="M1501.8 266.0C1508.5 260.9 1528.9 262.6 1538.2 278.6C1544.1 289.0 1545.8 303.9 1541.6 310.7C1538.2 317.0 1527.2 317.0 1522.1 314.2C1517.0 319.9 1506.8 319.9 1501.8 318.8C1496.7 319.9 1486.5 319.9 1481.4 314.2C1476.3 317.0 1465.3 317.0 1461.9 310.7C1457.7 303.9 1459.4 289.0 1465.3 278.6C1474.6 262.6 1495.0 260.9 1501.8 266.0Z" stroke="#f2e0dc" stroke-width="4.5" opacity="0.85"/>
<path d="M1467.9 300.4C1469.0 297.4 1470.4 286.1 1474.6 282.1C1478.9 278.1 1490.2 277.3 1493.3 276.4" stroke="#f6d8dc" stroke-width="1.6"/>
<path d="M1501.8 263.7L1502.3 283.2" stroke="#e0a0b0" stroke-width="1.3" opacity="0.8"/>
</g>
<rect x="1457.4" y="260.6" width="88.7" height="61.3" filter="url(#cgrain)" opacity="0.16"/>
</g>
<g clip-path="url(#cb14)"><rect x="1464.9" y="340.9" width="84.2" height="55.9" fill="#ecdccb"/>
<g filter="url(#cblur)">
<path d="M1499.0 366.8C1497.6 367.3 1493.0 368.3 1491.0 369.9C1489.0 371.4 1487.6 375.1 1487.0 376.1" fill="none" stroke="#eba8ba" stroke-width="8.8" stroke-linecap="round"/>
<path d="M1515.0 366.8C1516.4 367.3 1521.0 368.3 1523.0 369.9C1525.0 371.4 1526.4 375.1 1527.0 376.1" fill="none" stroke="#eba8ba" stroke-width="8.8" stroke-linecap="round"/>
<ellipse cx="1507.0" cy="381.3" rx="16.0" ry="10.4" fill="#e89ab4"/>
<ellipse cx="1489.4" cy="358.5" rx="14.4" ry="6.2" fill="#f0d8d0"/>
<ellipse cx="1507.0" cy="392.7" rx="12.8" ry="2.6" fill="#f0dcd8"/>
</g>
<g filter="url(#cband)" fill="none" stroke-linecap="round">
<path d="M1507.0 347.6C1515.0 341.9 1534.3 342.9 1542.3 356.4C1548.7 366.8 1547.1 378.2 1542.3 382.3C1537.5 386.5 1531.1 385.5 1528.7 383.4C1527.9 392.7 1516.6 394.8 1507.0 394.8C1497.4 394.8 1486.1 392.7 1485.3 383.4C1482.9 385.5 1476.5 386.5 1471.7 382.3C1466.9 378.2 1465.3 366.8 1471.7 356.4C1479.7 342.9 1499.0 341.9 1507.0 347.6Z" stroke="#e6d6c2" stroke-width="4.5" opacity="0.85"/>
<path d="M1507.0 343.9L1507.6 361.6" stroke="#8a6a58" stroke-width="1.3" opacity="0.8"/>
</g>
<rect x="1464.9" y="340.9" width="84.2" height="55.9" filter="url(#cgrain)" opacity="0.16"/>
</g>
<g clip-path="url(#cb15)"><rect x="1562.7" y="49.7" width="78.8" height="57.8" fill="#f0c6ca"/>
<g filter="url(#cblur)">
<ellipse cx="1593.1" cy="77.5" rx="28.4" ry="23.7" fill="#e87494"/>
<ellipse cx="1587.1" cy="84.0" rx="12.0" ry="11.8" fill="#df5c7c"/>
<ellipse cx="1617.1" cy="72.1" rx="13.5" ry="11.8" fill="#ea88a0"/>
<ellipse cx="1624.5" cy="93.7" rx="13.5" ry="10.8" fill="#e9e2d6"/>
<ellipse cx="1635.0" cy="75.9" rx="4.5" ry="10.8" fill="#f2dcd8"/>
</g>
<g filter="url(#cband)" fill="none" stroke-linecap="round">
<path d="M1602.1 55.5C1606.6 50.6 1624.5 50.1 1632.8 60.3C1641.0 70.0 1641.7 87.2 1634.3 95.8C1627.5 103.3 1614.1 103.9 1608.1 101.7C1605.1 105.5 1599.1 105.5 1596.1 101.7C1590.1 103.9 1576.7 103.3 1569.9 95.8C1562.5 87.2 1563.2 70.0 1571.4 60.3C1579.7 50.1 1597.6 50.6 1602.1 55.5Z" stroke="#f2ccd0" stroke-width="4.5" opacity="0.85"/>
<path d="M1573.7 78.6C1574.9 76.8 1577.4 70.0 1581.2 67.8C1584.9 65.7 1592.6 65.0 1596.1 65.7C1599.6 66.4 1599.9 71.8 1602.1 72.1C1604.3 72.5 1606.1 68.6 1609.6 67.8C1613.1 67.1 1620.8 67.8 1623.0 67.8" stroke="#f6c4ce" stroke-width="1.8"/>
<path d="M1602.1 52.8L1602.7 71.1" stroke="#e090a4" stroke-width="1.3" opacity="0.8"/>
</g>
<rect x="1562.7" y="49.7" width="78.8" height="57.8" filter="url(#cgrain)" opacity="0.16"/>
<circle cx="1587.1" cy="78.6" r="0.9" fill="#fff" opacity="0.7"/>
<circle cx="1591.6" cy="89.4" r="0.9" fill="#fff" opacity="0.7"/>
<circle cx="1609.6" cy="78.6" r="0.9" fill="#fff" opacity="0.7"/>
</g>
<g clip-path="url(#cb16)"><rect x="1557.3" y="118.7" width="87.0" height="63.2" fill="#f0bcc6"/>
<g filter="url(#cblur)">
<ellipse cx="1589.2" cy="150.3" rx="29.9" ry="26.0" fill="#e56a8a"/>
<ellipse cx="1584.2" cy="156.2" rx="13.3" ry="13.0" fill="#e05c7c"/>
<ellipse cx="1607.4" cy="156.2" rx="8.3" ry="11.8" fill="#ea8aa2"/>
<ellipse cx="1629.8" cy="156.2" rx="13.3" ry="21.3" fill="#e9e2d7"/>
<ellipse cx="1617.4" cy="132.5" rx="11.6" ry="5.9" fill="#ee9cb0"/>
</g>
<g filter="url(#cband)" fill="none" stroke-linecap="round">
<path d="M1600.8 124.8C1605.8 119.5 1625.7 118.9 1634.8 130.2C1644.0 140.8 1644.8 159.8 1636.5 169.2C1629.0 177.5 1614.1 178.1 1607.4 175.8C1604.1 179.9 1597.5 179.9 1594.2 175.8C1587.5 178.1 1572.6 177.5 1565.1 169.2C1556.8 159.8 1557.6 140.8 1566.8 130.2C1575.9 118.9 1595.8 119.5 1600.8 124.8Z" stroke="#f2c6cc" stroke-width="4.5" opacity="0.85"/>
<path d="M1570.9 156.2C1572.0 153.9 1573.7 145.0 1577.6 142.0C1581.4 139.1 1590.0 138.5 1594.2 138.5C1598.3 138.5 1598.6 141.4 1602.5 142.0C1606.3 142.6 1614.9 142.0 1617.4 142.0" stroke="#f6c6ce" stroke-width="1.8"/>
<path d="M1600.8 121.9L1601.4 142.0" stroke="#e090a4" stroke-width="1.3" opacity="0.8"/>
</g>
<rect x="1557.3" y="118.7" width="87.0" height="63.2" filter="url(#cgrain)" opacity="0.16"/>
<circle cx="1594.2" cy="147.3" r="0.9" fill="#fff" opacity="0.7"/>
<circle cx="1600.8" cy="156.2" r="0.9" fill="#fff" opacity="0.7"/>
<circle cx="1595.8" cy="174.0" r="0.9" fill="#fff" opacity="0.7"/>
</g>
<g clip-path="url(#cb17)"><rect x="1555.0" y="188.2" width="90.0" height="68.2" fill="#f0b6c0"/>
<g filter="url(#cblur)">
<ellipse cx="1591.4" cy="222.3" rx="34.4" ry="29.5" fill="#e25c7c"/>
<ellipse cx="1600.0" cy="230.0" rx="12.0" ry="12.8" fill="#ea88a0"/>
<ellipse cx="1633.5" cy="222.3" rx="10.3" ry="24.4" fill="#e9e2d7"/>
<ellipse cx="1618.9" cy="200.5" rx="10.3" ry="5.1" fill="#f0a8b8"/>
</g>
<g filter="url(#cband)" fill="none" stroke-linecap="round">
<path d="M1600.0 194.1C1606.9 188.3 1627.5 190.2 1637.0 208.2C1643.0 219.7 1644.7 236.4 1640.4 244.1C1637.0 251.2 1625.8 251.2 1620.6 248.0C1615.5 254.4 1605.2 254.4 1600.0 253.1C1594.8 254.4 1584.5 254.4 1579.4 248.0C1574.2 251.2 1563.0 251.2 1559.6 244.1C1555.3 236.4 1557.0 219.7 1563.0 208.2C1572.5 190.2 1593.1 188.3 1600.0 194.1Z" stroke="#f2c0c6" stroke-width="4.5" opacity="0.85"/>
<path d="M1569.0 232.6C1570.2 229.8 1570.8 219.3 1575.9 215.9C1581.1 212.5 1593.1 212.0 1600.0 212.0C1606.9 212.0 1614.3 215.2 1617.2 215.9" stroke="#f4bcc8" stroke-width="1.8"/>
<path d="M1600.0 191.5L1600.6 213.3" stroke="#d87890" stroke-width="1.3" opacity="0.8"/>
</g>
<rect x="1555.0" y="188.2" width="90.0" height="68.2" filter="url(#cgrain)" opacity="0.16"/>
<circle cx="1588.0" cy="222.3" r="0.9" fill="#fff" opacity="0.7"/>
<circle cx="1600.0" cy="222.3" r="0.9" fill="#fff" opacity="0.7"/>
</g>
<g clip-path="url(#cb18)"><rect x="1552.2" y="258.3" width="95.6" height="70.2" fill="#efa9b4"/>
<g filter="url(#cblur)">
<ellipse cx="1595.4" cy="293.4" rx="38.5" ry="27.8" fill="#e2546f"/>
<ellipse cx="1600.0" cy="302.7" rx="14.7" ry="13.2" fill="#ee98a8"/>
<ellipse cx="1633.0" cy="281.5" rx="11.0" ry="13.2" fill="#f3ddd8"/>
<ellipse cx="1581.7" cy="286.8" rx="12.8" ry="10.6" fill="#e87890"/>
</g>
<g filter="url(#cband)" fill="none" stroke-linecap="round">
<path d="M1600.0 264.3C1607.3 258.3 1629.3 260.3 1639.4 278.8C1645.8 290.8 1647.6 308.0 1643.1 315.9C1639.4 323.2 1627.5 323.2 1622.0 319.9C1616.5 326.5 1605.5 326.5 1600.0 325.2C1594.5 326.5 1583.5 326.5 1578.0 319.9C1572.5 323.2 1560.6 323.2 1556.9 315.9C1552.4 308.0 1554.2 290.8 1560.6 278.8C1570.7 260.3 1592.7 258.3 1600.0 264.3Z" stroke="#f2b8be" stroke-width="4.5" opacity="0.85"/>
<path d="M1563.4 304.0C1564.9 300.9 1567.9 289.6 1572.5 285.5C1577.1 281.3 1586.3 279.3 1590.8 278.8C1595.4 278.4 1596.9 282.8 1600.0 282.8C1603.1 282.8 1607.6 279.5 1609.2 278.8" stroke="#f2a8b4" stroke-width="1.8"/>
<path d="M1600.0 261.6L1600.6 284.1" stroke="#b04860" stroke-width="1.3" opacity="0.8"/>
</g>
<rect x="1552.2" y="258.3" width="95.6" height="70.2" filter="url(#cgrain)" opacity="0.16"/>
<circle cx="1609.2" cy="286.8" r="0.9" fill="#fff" opacity="0.7"/>
<circle cx="1614.7" cy="293.4" r="0.9" fill="#fff" opacity="0.7"/>
<circle cx="1618.3" cy="289.4" r="0.9" fill="#fff" opacity="0.7"/>
</g>
<g clip-path="url(#cb19)"><rect x="1547.9" y="335.0" width="100.4" height="67.6" fill="#f0b8b8"/>
<g filter="url(#cblur)">
<ellipse cx="1598.1" cy="359.9" rx="44.3" ry="19.1" fill="#e8788c"/>
<path d="M1588.5 352.3C1586.2 352.9 1578.7 353.7 1575.0 356.1C1571.3 358.4 1568.1 362.4 1566.3 366.3C1564.5 370.1 1564.7 376.9 1564.4 379.0" fill="none" stroke="#d94e6c" stroke-width="12.5" stroke-linecap="round"/>
<path d="M1607.7 352.3C1610.0 352.9 1617.5 353.7 1621.2 356.1C1624.9 358.4 1628.1 362.4 1629.9 366.3C1631.7 370.1 1631.5 376.9 1631.8 379.0" fill="none" stroke="#d94e6c" stroke-width="12.5" stroke-linecap="round"/>
<ellipse cx="1598.1" cy="384.1" rx="19.3" ry="15.3" fill="#f3b6c4"/>
<ellipse cx="1598.1" cy="398.1" rx="15.4" ry="3.8" fill="#f6e4dc"/>
<ellipse cx="1636.7" cy="362.4" rx="5.8" ry="12.7" fill="#f4d8d0"/>
</g>
<g filter="url(#cband)" fill="none" stroke-linecap="round">
<path d="M1598.1 342.7C1607.7 335.7 1630.9 337.0 1640.5 353.5C1648.2 366.3 1646.3 380.2 1640.5 385.3C1634.7 390.4 1627.0 389.2 1624.1 386.6C1623.2 398.1 1609.7 400.6 1598.1 400.6C1586.5 400.6 1573.0 398.1 1572.1 386.6C1569.2 389.2 1561.5 390.4 1555.7 385.3C1549.9 380.2 1548.0 366.3 1555.7 353.5C1565.3 337.0 1588.5 335.7 1598.1 342.7Z" stroke="#f0c4be" stroke-width="4.5" opacity="0.85"/>
<path d="M1559.5 381.5C1560.5 377.9 1560.8 365.2 1565.3 359.9C1569.8 354.6 1581.1 350.4 1586.5 349.7C1592.0 349.1 1594.2 356.1 1598.1 356.1C1602.0 356.1 1604.2 349.1 1609.7 349.7C1615.1 350.4 1626.4 354.6 1630.9 359.9C1635.4 365.2 1635.7 377.9 1636.7 381.5" stroke="#f4c0c4" stroke-width="1.8"/>
<path d="M1598.1 338.3L1598.7 359.9" stroke="#7a4048" stroke-width="1.3" opacity="0.8"/>
</g>
<rect x="1547.9" y="335.0" width="100.4" height="67.6" filter="url(#cgrain)" opacity="0.16"/>
<circle cx="1588.5" cy="379.0" r="0.9" fill="#fff" opacity="0.7"/>
<circle cx="1603.9" cy="387.9" r="0.9" fill="#fff" opacity="0.7"/>
</g>
<g clip-path="url(#cb20)"><rect x="1670.7" y="49.7" width="79.6" height="60.6" fill="#ecc0c4"/>
<g filter="url(#cblur)">
<ellipse cx="1710.5" cy="77.2" rx="31.8" ry="22.6" fill="#e0648e"/>
<ellipse cx="1695.4" cy="78.9" rx="12.1" ry="13.6" fill="#d74c7e"/>
<ellipse cx="1727.1" cy="78.9" rx="12.1" ry="13.6" fill="#d74c7e"/>
<ellipse cx="1718.1" cy="105.5" rx="22.7" ry="5.1" fill="#efe2d6"/>
<ellipse cx="1687.8" cy="102.6" rx="9.1" ry="4.5" fill="#eed6cc"/>
</g>
<g filter="url(#cband)" fill="none" stroke-linecap="round">
<path d="M1710.5 55.7C1715.0 50.6 1733.2 50.0 1741.5 60.8C1749.8 70.9 1750.6 89.1 1743.0 98.1C1736.2 106.0 1722.6 106.6 1716.5 104.3C1713.5 108.3 1707.5 108.3 1704.5 104.3C1698.4 106.6 1684.8 106.0 1678.0 98.1C1670.4 89.1 1671.2 70.9 1679.5 60.8C1687.8 50.0 1706.0 50.6 1710.5 55.7Z" stroke="#eac4c2" stroke-width="4.5" opacity="0.85"/>
<path d="M1680.3 83.4C1681.3 81.1 1682.8 72.8 1686.3 69.8C1689.8 66.8 1697.4 64.9 1701.4 65.3C1705.5 65.7 1707.5 72.1 1710.5 72.1C1713.5 72.1 1715.5 65.7 1719.6 65.3C1723.6 64.9 1731.2 66.8 1734.7 69.8C1738.2 72.8 1739.7 81.1 1740.7 83.4" stroke="#eeaac0" stroke-width="1.8"/>
<path d="M1710.5 52.8L1711.1 72.1" stroke="#c05078" stroke-width="1.3" opacity="0.8"/>
</g>
<rect x="1670.7" y="49.7" width="79.6" height="60.6" filter="url(#cgrain)" opacity="0.16"/>
<circle cx="1702.9" cy="91.3" r="0.9" fill="#fff" opacity="0.7"/>
<circle cx="1725.6" cy="91.3" r="0.9" fill="#fff" opacity="0.7"/>
</g>
<g clip-path="url(#cb21)"><rect x="1665.6" y="113.3" width="96.9" height="65.1" fill="#e7a5b2"/>
<g filter="url(#cblur)">
<ellipse cx="1714.0" cy="142.8" rx="42.7" ry="25.7" fill="#cf467a"/>
<ellipse cx="1714.0" cy="154.4" rx="18.6" ry="13.4" fill="#d85c8a"/>
<ellipse cx="1695.5" cy="147.1" rx="9.3" ry="9.8" fill="#b83468"/>
<ellipse cx="1740.1" cy="152.0" rx="7.4" ry="9.8" fill="#c23a6e"/>
<ellipse cx="1714.0" cy="173.3" rx="27.9" ry="4.9" fill="#ecd8cc"/>
<ellipse cx="1675.0" cy="164.2" rx="6.5" ry="7.3" fill="#e8b4b8"/>
<ellipse cx="1754.9" cy="164.2" rx="6.5" ry="7.3" fill="#e8b4b8"/>
</g>
<g filter="url(#cband)" fill="none" stroke-linecap="round">
<path d="M1714.0 119.0C1721.5 113.5 1743.8 115.3 1754.0 132.4C1760.5 143.4 1762.4 159.3 1757.7 166.6C1754.0 173.3 1741.9 173.3 1736.3 170.3C1730.8 176.4 1719.6 176.4 1714.0 175.2C1708.5 176.4 1697.3 176.4 1691.8 170.3C1686.2 173.3 1674.1 173.3 1670.4 166.6C1665.7 159.3 1667.6 143.4 1674.1 132.4C1684.3 115.3 1706.6 113.5 1714.0 119.0Z" stroke="#e8b0b8" stroke-width="4.5" opacity="0.85"/>
<path d="M1675.0 155.6C1676.3 152.4 1677.5 140.6 1682.5 136.1C1687.4 131.6 1699.5 129.1 1704.8 128.7C1710.0 128.3 1711.0 133.6 1714.0 133.6C1717.1 133.6 1718.1 128.3 1723.3 128.7C1728.6 129.1 1740.7 131.6 1745.6 136.1C1750.6 140.6 1751.8 152.4 1753.1 155.6" stroke="#e082a4" stroke-width="1.8"/>
<path d="M1714.0 116.5L1714.6 137.3" stroke="#8c3058" stroke-width="1.3" opacity="0.8"/>
</g>
<rect x="1665.6" y="113.3" width="96.9" height="65.1" filter="url(#cgrain)" opacity="0.16"/>
<circle cx="1715.9" cy="133.6" r="0.9" fill="#fff" opacity="0.7"/>
<circle cx="1741.9" cy="145.8" r="0.9" fill="#fff" opacity="0.7"/>
<circle cx="1738.2" cy="158.1" r="0.9" fill="#fff" opacity="0.7"/>
</g>
<g clip-path="url(#cb22)"><rect x="1663.7" y="178.4" width="97.6" height="66.3" fill="#e6a9b4"/>
<g filter="url(#cblur)">
<ellipse cx="1712.5" cy="206.6" rx="43.1" ry="22.4" fill="#cd3f74"/>
<ellipse cx="1712.5" cy="222.8" rx="18.7" ry="13.7" fill="#e0729c"/>
<ellipse cx="1712.5" cy="239.6" rx="18.7" ry="5.0" fill="#f0e2da"/>
<ellipse cx="1684.4" cy="211.6" rx="9.4" ry="10.0" fill="#c03a6e"/>
<ellipse cx="1740.6" cy="211.6" rx="9.4" ry="10.0" fill="#c03a6e"/>
</g>
<g filter="url(#cband)" fill="none" stroke-linecap="round">
<path d="M1712.5 186.0C1721.9 179.2 1744.3 180.4 1753.7 196.6C1761.2 209.1 1759.3 222.8 1753.7 227.7C1748.1 232.7 1740.6 231.5 1737.8 229.0C1736.8 240.2 1723.7 242.7 1712.5 242.7C1701.3 242.7 1688.2 240.2 1687.2 229.0C1684.4 231.5 1676.9 232.7 1671.3 227.7C1665.7 222.8 1663.8 209.1 1671.3 196.6C1680.7 180.4 1703.1 179.2 1712.5 186.0Z" stroke="#e8b4ba" stroke-width="4.5" opacity="0.85"/>
<path d="M1675.1 224.0C1676.0 220.5 1676.3 208.0 1680.7 202.8C1685.0 197.6 1696.0 193.5 1701.3 192.9C1706.6 192.2 1708.8 199.1 1712.5 199.1C1716.2 199.1 1718.4 192.2 1723.7 192.9C1729.0 193.5 1740.0 197.6 1744.3 202.8C1748.7 208.0 1749.0 220.5 1749.9 224.0" stroke="#e088a8" stroke-width="1.6"/>
<path d="M1712.5 181.6L1713.1 202.8" stroke="#8c3058" stroke-width="1.3" opacity="0.8"/>
</g>
<rect x="1663.7" y="178.4" width="97.6" height="66.3" filter="url(#cgrain)" opacity="0.16"/>
<circle cx="1736.8" cy="205.3" r="0.9" fill="#fff" opacity="0.7"/>
<circle cx="1740.6" cy="215.3" r="0.9" fill="#fff" opacity="0.7"/>
<circle cx="1693.8" cy="224.0" r="0.9" fill="#fff" opacity="0.7"/>
</g>
<g clip-path="url(#cb23)"><rect x="1669.1" y="253.6" width="95.0" height="67.9" fill="#eaa9ba"/>
<g filter="url(#cblur)">
<ellipse cx="1716.6" cy="284.4" rx="38.2" ry="24.3" fill="#d64c80"/>
<ellipse cx="1702.0" cy="293.9" rx="12.7" ry="15.3" fill="#e482a6"/>
<ellipse cx="1731.2" cy="293.9" rx="12.7" ry="15.3" fill="#e27ca0"/>
<ellipse cx="1716.6" cy="268.4" rx="14.6" ry="7.7" fill="#e99cb4"/>
<ellipse cx="1716.6" cy="316.3" rx="9.1" ry="3.8" fill="#f2d8d8"/>
<ellipse cx="1680.2" cy="303.5" rx="7.3" ry="10.2" fill="#efc0c8"/>
<ellipse cx="1753.0" cy="303.5" rx="7.3" ry="10.2" fill="#efc0c8"/>
</g>
<g filter="url(#cband)" fill="none" stroke-linecap="round">
<path d="M1716.6 259.4C1723.9 253.7 1745.7 255.6 1755.7 273.5C1762.1 285.0 1763.9 301.6 1759.4 309.3C1755.7 316.3 1743.9 316.3 1738.4 313.1C1733.0 319.5 1722.1 319.5 1716.6 318.2C1711.1 319.5 1700.2 319.5 1694.8 313.1C1689.3 316.3 1677.5 316.3 1673.8 309.3C1669.3 301.6 1671.1 285.0 1677.5 273.5C1687.5 255.6 1709.3 253.7 1716.6 259.4Z" stroke="#ecb4c0" stroke-width="4.5" opacity="0.85"/>
<path d="M1716.6 256.9L1717.2 278.6" stroke="#c04878" stroke-width="1.3" opacity="0.8"/>
</g>
<rect x="1669.1" y="253.6" width="95.0" height="67.9" filter="url(#cgrain)" opacity="0.16"/>
<circle cx="1725.7" cy="281.2" r="0.9" fill="#fff" opacity="0.7"/>
<circle cx="1731.2" cy="286.3" r="0.9" fill="#fff" opacity="0.7"/>
<circle cx="1718.4" cy="287.6" r="0.9" fill="#fff" opacity="0.7"/>
</g>
<g clip-path="url(#cb24)"><rect x="1667.2" y="333.1" width="94.1" height="66.0" fill="#dbc8b4"/>
<g filter="url(#cblur)">
<path d="M1705.2 351.2C1703.4 351.8 1697.4 352.7 1694.4 354.9C1691.4 357.2 1688.7 361.3 1687.2 364.9C1685.7 368.4 1685.7 374.2 1685.4 376.0" fill="none" stroke="#d85286" stroke-width="14.4" stroke-linecap="round"/>
<path d="M1723.3 351.2C1725.1 351.8 1731.1 352.7 1734.1 354.9C1737.1 357.2 1739.8 361.3 1741.3 364.9C1742.8 368.4 1742.8 374.2 1743.1 376.0" fill="none" stroke="#d85286" stroke-width="14.4" stroke-linecap="round"/>
<ellipse cx="1714.2" cy="373.5" rx="18.0" ry="14.9" fill="#da5c8c"/>
<ellipse cx="1714.2" cy="392.1" rx="18.0" ry="6.2" fill="#f1e8de"/>
<ellipse cx="1696.2" cy="347.5" rx="12.6" ry="6.2" fill="#e6c4bc"/>
<ellipse cx="1734.1" cy="347.5" rx="12.6" ry="6.2" fill="#e8c8c0"/>
</g>
<g filter="url(#cband)" fill="none" stroke-linecap="round">
<path d="M1714.2 340.7C1723.3 333.9 1744.9 335.1 1753.9 351.2C1761.1 363.6 1759.3 377.3 1753.9 382.2C1748.5 387.2 1741.3 385.9 1738.6 383.5C1737.7 394.6 1725.1 397.1 1714.2 397.1C1703.4 397.1 1690.8 394.6 1689.9 383.5C1687.2 385.9 1680.0 387.2 1674.6 382.2C1669.2 377.3 1667.4 363.6 1674.6 351.2C1683.6 335.1 1705.2 333.9 1714.2 340.7Z" stroke="#d4c0a8" stroke-width="4.5" opacity="0.85"/>
<path d="M1714.2 336.3L1714.8 357.4" stroke="#6a3040" stroke-width="1.3" opacity="0.8"/>
</g>
<rect x="1667.2" y="333.1" width="94.1" height="66.0" filter="url(#cgrain)" opacity="0.16"/>
<circle cx="1717.9" cy="369.8" r="0.9" fill="#fff" opacity="0.7"/>
<circle cx="1735.9" cy="366.1" r="0.9" fill="#fff" opacity="0.7"/>
<circle cx="1696.2" cy="372.3" r="0.9" fill="#fff" opacity="0.7"/>
</g>
</g>
</g>
<text transform="translate(1231.76 427.90) scale(1 1.04)" font-family='"Liberation Sans", Arial, sans-serif' font-size="23.41" font-weight="700" stroke="#000" stroke-width="0.33" stroke-linejoin="round">Sham</text>
<text transform="translate(1352.65 427.90) scale(1 1.04)" font-family='"Liberation Sans", Arial, sans-serif' font-size="23.22" font-weight="700" stroke="#000" stroke-width="0.33" stroke-linejoin="round">MCAO</text>
<text transform="translate(1484.33 427.90) scale(1 1.04)" font-family='"Liberation Sans", Arial, sans-serif' font-size="23.64" font-weight="700" stroke="#000" stroke-width="0.33" stroke-linejoin="round">LM</text>
<text transform="translate(1585.30 427.90) scale(1 1.04)" font-family='"Liberation Sans", Arial, sans-serif' font-size="24.06" font-weight="700" stroke="#000" stroke-width="0.34" stroke-linejoin="round">HM</text>
<text transform="translate(1690.23 427.90) scale(1 1.04)" font-family='"Liberation Sans", Arial, sans-serif' font-size="23.62" font-weight="700" stroke="#000" stroke-width="0.33" stroke-linejoin="round">HCK</text>
<text transform="translate(1201.60 30.30) scale(1 1.04)" font-family='"Liberation Sans", Arial, sans-serif' font-size="36.60" stroke="#000" stroke-width="0.66" stroke-linejoin="round">C</text>
</g>
<g id="panel-a">
<rect x="54.3" y="33.2" width="236.3" height="42.8" fill="#bdcae3"/>
<rect x="339.7" y="33.0" width="70.3" height="43.0" fill="#a0a0a0"/>
<rect x="290.1" y="33.2" width="49.9" height="42.8" fill="#55839d"/>
<text transform="translate(299.43 59.50) scale(1 1.04)" font-family='"Liberation Sans", Arial, sans-serif' font-size="13.16" fill="#fff" stroke="#fff" stroke-width="0.24" stroke-linejoin="round" stroke="#fff" stroke-width="0.5">Sham</text>
<rect x="54.3" y="100.6" width="236.3" height="43.0" fill="#bdcae3"/>
<rect x="339.7" y="100.6" width="70.6" height="43.0" fill="#c8938f"/>
<rect x="290.1" y="100.0" width="49.9" height="43.6" fill="#d90000"/>
<text transform="translate(295.30 126.40) scale(1 1.04)" font-family='"Liberation Sans", Arial, sans-serif' font-size="13.79" font-weight="700" fill="#fff" stroke="#fff" stroke-width="0.19" stroke-linejoin="round">MCAO</text>
<rect x="54.3" y="176.8" width="236.3" height="42.9" fill="#bdcae3"/>
<rect x="339.7" y="176.8" width="70.8" height="42.9" fill="#ada1c4"/>
<rect x="290.1" y="176.6" width="49.9" height="43.3" fill="#d90000"/>
<text transform="translate(295.30 202.85) scale(1 1.04)" font-family='"Liberation Sans", Arial, sans-serif' font-size="13.79" font-weight="700" fill="#fff" stroke="#fff" stroke-width="0.19" stroke-linejoin="round">MCAO</text>
<rect x="54.3" y="255.4" width="236.2" height="43.0" fill="#bdcae3"/>
<rect x="339.2" y="254.8" width="70.8" height="43.6" fill="#698dd0"/>
<rect x="290.0" y="255.2" width="49.5" height="43.5" fill="#d90000"/>
<text transform="translate(295.20 281.55) scale(1 1.04)" font-family='"Liberation Sans", Arial, sans-serif' font-size="13.79" font-weight="700" fill="#fff" stroke="#fff" stroke-width="0.19" stroke-linejoin="round">MCAO</text>
<rect x="55.0" y="327.4" width="236.0" height="43.2" fill="#bdcae3"/>
<rect x="338.7" y="327.4" width="72.1" height="43.2" fill="#efbf83"/>
<rect x="290.5" y="327.4" width="48.5" height="43.2" fill="#55839d"/>
<text transform="translate(299.83 353.90) scale(1 1.04)" font-family='"Liberation Sans", Arial, sans-serif' font-size="13.16" fill="#fff" stroke="#fff" stroke-width="0.24" stroke-linejoin="round" stroke="#fff" stroke-width="0.5">Sham</text>
<text transform="translate(63.99 62.80) scale(1 1.04)" font-family='"Liberation Sans", Arial, sans-serif' font-size="22.57" font-weight="700" stroke="#000" stroke-width="0.32" stroke-linejoin="round">Normal saline</text>
<text transform="translate(64.69 128.40) scale(1 1.04)" font-family='"Liberation Sans", Arial, sans-serif' font-size="22.51" font-weight="700" stroke="#000" stroke-width="0.32" stroke-linejoin="round">Normal saline</text>
<text transform="translate(62.10 208.30) scale(1 1.04)" font-family='"Liberation Sans", Arial, sans-serif' font-size="22.36" font-weight="700" stroke="#000" stroke-width="0.31" stroke-linejoin="round">PMP</text>
<text transform="translate(131.38 208.30) scale(1 1.04)" font-family='"Liberation Sans", Arial, sans-serif' font-size="22.31" font-weight="700" stroke="#000" stroke-width="0.31" stroke-linejoin="round">20</text>
<text transform="translate(159.38 208.30) scale(1 1.04)" font-family='"Liberation Sans", Arial, sans-serif' font-size="22.80" font-weight="700" stroke="#000" stroke-width="0.32" stroke-linejoin="round">mg/kg</text>
<text transform="translate(63.30 286.40) scale(1 1.04)" font-family='"Liberation Sans", Arial, sans-serif' font-size="22.36" font-weight="700" stroke="#000" stroke-width="0.31" stroke-linejoin="round">PMP</text>
<text transform="translate(135.69 286.40) scale(1 1.04)" font-family='"Liberation Sans", Arial, sans-serif' font-size="22.20" font-weight="700" stroke="#000" stroke-width="0.31" stroke-linejoin="round">50</text>
<text transform="translate(163.30 286.40) scale(1 1.04)" font-family='"Liberation Sans", Arial, sans-serif' font-size="22.48" font-weight="700" stroke="#000" stroke-width="0.31" stroke-linejoin="round">mg/kg</text>
<text transform="translate(65.50 355.20) scale(1 1.04)" font-family='"Liberation Sans", Arial, sans-serif' font-size="22.36" font-weight="700" stroke="#000" stroke-width="0.31" stroke-linejoin="round">PMP</text>
<text transform="translate(135.19 355.20) scale(1 1.04)" font-family='"Liberation Sans", Arial, sans-serif' font-size="22.20" font-weight="700" stroke="#000" stroke-width="0.31" stroke-linejoin="round">50</text>
<text transform="translate(162.90 355.20) scale(1 1.04)" font-family='"Liberation Sans", Arial, sans-serif' font-size="22.48" font-weight="700" stroke="#000" stroke-width="0.31" stroke-linejoin="round">mg/kg</text>
<text transform="translate(418.68 62.80) scale(1 1.04)" font-family='"Liberation Sans", Arial, sans-serif' font-size="22.57" font-weight="700" stroke="#000" stroke-width="0.32" stroke-linejoin="round">Sham</text>
<text transform="translate(418.28 130.80) scale(1 1.04)" font-family='"Liberation Sans", Arial, sans-serif' font-size="22.68" font-weight="700" stroke="#000" stroke-width="0.32" stroke-linejoin="round">MCAO</text>
<text transform="translate(418.27 207.00) scale(1 1.04)" font-family='"Liberation Sans", Arial, sans-serif' font-size="22.96" font-weight="700" stroke="#000" stroke-width="0.32" stroke-linejoin="round">LM</text>
<text transform="translate(418.48 278.70) scale(1 1.04)" font-family='"Liberation Sans", Arial, sans-serif' font-size="22.80" font-weight="700" stroke="#000" stroke-width="0.32" stroke-linejoin="round">HM</text>
<text transform="translate(420.10 353.70) scale(1 1.04)" font-family='"Liberation Sans", Arial, sans-serif' font-size="22.34" font-weight="700" stroke="#000" stroke-width="0.31" stroke-linejoin="round">HCK</text>
<text transform="translate(336.20 23.90) scale(1 1.04)" font-family='"Liberation Sans", Arial, sans-serif' font-size="22.34" font-weight="700" stroke="#000" stroke-width="0.31" stroke-linejoin="round">Recovery</text>
<g stroke="#111" stroke-width="1.8" fill="none"><path d="M56.8 388.2V402.2"/><path d="M69 401.4H410.2"/><path d="M290.1 389V401.4"/><path d="M410 388V402.3"/></g>
<path d="M290 403.3L296.1 416.2H284.1Z" fill="#dc0000"/>
<text transform="translate(51.28 428.00) scale(1 1.04)" font-family='"Liberation Sans", Arial, sans-serif' font-size="22.40" font-weight="700" stroke="#000" stroke-width="0.31" stroke-linejoin="round">0</text>
<text transform="translate(69.57 428.00) scale(1 1.04)" font-family='"Liberation Sans", Arial, sans-serif' font-size="22.26" font-weight="700" stroke="#000" stroke-width="0.31" stroke-linejoin="round">day</text>
<text transform="translate(262.38 433.30) scale(1 1.04)" font-family='"Liberation Sans", Arial, sans-serif' font-size="22.02" font-weight="700" stroke="#000" stroke-width="0.31" stroke-linejoin="round">20</text>
<text transform="translate(299.67 433.30) scale(1 1.04)" font-family='"Liberation Sans", Arial, sans-serif' font-size="22.14" font-weight="700" stroke="#000" stroke-width="0.31" stroke-linejoin="round">day</text>
<text transform="translate(380.37 433.30) scale(1 1.04)" font-family='"Liberation Sans", Arial, sans-serif' font-size="22.66" font-weight="700" stroke="#000" stroke-width="0.32" stroke-linejoin="round">28</text>
<text transform="translate(408.67 433.30) scale(1 1.04)" font-family='"Liberation Sans", Arial, sans-serif' font-size="22.02" font-weight="700" stroke="#000" stroke-width="0.31" stroke-linejoin="round">day</text>
<text transform="translate(2.53 30.00) scale(1 1.04)" font-family='"Liberation Sans", Arial, sans-serif' font-size="36.60" stroke="#000" stroke-width="0.66" stroke-linejoin="round">A</text>
</g>
<g id="panel-b">
<g stroke="#000" stroke-width="4.4" stroke-linecap="round" fill="none">
<path d="M620.2 76.6V365.6"/>
<path d="M611.6 78.3H620.2"/>
<path d="M611.6 126.0H620.2"/>
<path d="M611.6 173.7H620.2"/>
<path d="M611.6 221.4H620.2"/>
<path d="M611.6 269.1H620.2"/>
<path d="M611.6 316.8H620.2"/>
<path d="M611.6 364.5H620.2"/>
<path d="M620.2 173.7H1050.3"/>
<path d="M763.6 173.7V182.6"/>
<path d="M907.0 173.7V182.6"/>
<path d="M1050.4 173.7V182.6"/>
</g>
<text transform="translate(585.39 86.50) scale(1 1.04)" font-family='"Liberation Sans", Arial, sans-serif' font-size="21.50" font-weight="700" stroke="#000" stroke-width="0.30" stroke-linejoin="round">10</text>
<text transform="translate(597.00 134.20) scale(1 1.04)" font-family='"Liberation Sans", Arial, sans-serif' font-size="21.50" font-weight="700" stroke="#000" stroke-width="0.30" stroke-linejoin="round">5</text>
<text transform="translate(597.33 181.90) scale(1 1.04)" font-family='"Liberation Sans", Arial, sans-serif' font-size="21.50" font-weight="700" stroke="#000" stroke-width="0.30" stroke-linejoin="round">0</text>
<text transform="translate(589.80 229.60) scale(1 1.04)" font-family='"Liberation Sans", Arial, sans-serif' font-size="21.50" font-weight="700" stroke="#000" stroke-width="0.30" stroke-linejoin="round">-5</text>
<text transform="translate(578.19 277.30) scale(1 1.04)" font-family='"Liberation Sans", Arial, sans-serif' font-size="21.50" font-weight="700" stroke="#000" stroke-width="0.30" stroke-linejoin="round">-10</text>
<text transform="translate(577.87 325.00) scale(1 1.04)" font-family='"Liberation Sans", Arial, sans-serif' font-size="21.50" font-weight="700" stroke="#000" stroke-width="0.30" stroke-linejoin="round">-15</text>
<text transform="translate(578.19 372.70) scale(1 1.04)" font-family='"Liberation Sans", Arial, sans-serif' font-size="21.50" font-weight="700" stroke="#000" stroke-width="0.30" stroke-linejoin="round">-20</text>
<text transform="translate(751.65 206.30) scale(1 1.04)" font-family='"Liberation Sans", Arial, sans-serif' font-size="21.50" font-weight="700" stroke="#000" stroke-width="0.30" stroke-linejoin="round">10</text>
<text transform="translate(895.32 206.30) scale(1 1.04)" font-family='"Liberation Sans", Arial, sans-serif' font-size="21.50" font-weight="700" stroke="#000" stroke-width="0.30" stroke-linejoin="round">20</text>
<text transform="translate(1038.83 206.30) scale(1 1.04)" font-family='"Liberation Sans", Arial, sans-serif' font-size="21.50" font-weight="700" stroke="#000" stroke-width="0.30" stroke-linejoin="round">30</text>
<text transform="translate(815.44 237.40) scale(1 1.04)" font-family='"Liberation Sans", Arial, sans-serif' font-size="23.09" font-weight="700" stroke="#000" stroke-width="0.32" stroke-linejoin="round">day</text>
<text transform="translate(564.70 298.68) rotate(-90) scale(1 1.04)" textLength="157.25" lengthAdjust="spacingAndGlyphs" font-family='"Liberation Sans", Arial, sans-serif' font-size="22.60" font-weight="700" stroke="#000" stroke-width="0.32" stroke-linejoin="round">weight gain /g</text>
<g stroke="#edbb7f" stroke-width="4.7" stroke-linecap="round" stroke-linejoin="round" fill="none">
<path d="M648.9 182.5L677.6 160.5L706.2 146.8L734.9 148.4L763.6 141.6L792.3 134.0L821.0 132.6L849.6 127.6L878.3 127.4L907.0 121.6L935.7 182.1L964.4 185.3L993.0 172.6L1021.7 172.6"/>
<path d="M677.6 157.5V163.5M671.6 157.5h12M671.6 163.5h12" stroke-width="5.4"/>
<path d="M706.2 142.6V151.0M700.2 142.6h12M700.2 151.0h12" stroke-width="5.4"/>
</g>
<circle cx="648.9" cy="182.5" r="5.6" fill="#edbb7f"/>
<circle cx="677.6" cy="160.5" r="5.6" fill="#edbb7f"/>
<circle cx="706.2" cy="146.8" r="5.6" fill="#edbb7f"/>
<circle cx="734.9" cy="148.4" r="5.6" fill="#edbb7f"/>
<circle cx="763.6" cy="141.6" r="5.6" fill="#edbb7f"/>
<circle cx="792.3" cy="134.0" r="5.6" fill="#edbb7f"/>
<circle cx="821.0" cy="132.6" r="5.6" fill="#edbb7f"/>
<circle cx="849.6" cy="127.6" r="5.6" fill="#edbb7f"/>
<circle cx="878.3" cy="127.4" r="5.6" fill="#edbb7f"/>
<circle cx="907.0" cy="121.6" r="5.6" fill="#edbb7f"/>
<circle cx="935.7" cy="182.1" r="5.6" fill="#edbb7f"/>
<circle cx="964.4" cy="185.3" r="5.6" fill="#edbb7f"/>
<circle cx="993.0" cy="172.6" r="5.6" fill="#edbb7f"/>
<circle cx="1021.7" cy="172.6" r="5.6" fill="#edbb7f"/>
<g stroke="#0000ff" stroke-width="4.7" stroke-linecap="round" stroke-linejoin="round" fill="none">
<path d="M648.9 182.0L677.6 162.6L706.2 150.5L734.9 150.5L763.6 143.7L792.3 136.6L821.0 130.5L849.6 122.6L878.3 122.6L907.0 117.9L935.7 265.0L964.4 232.0L993.0 197.6L1021.7 170.2"/>
<path d="M935.7 260.5V269.5M929.7 260.5h12M929.7 269.5h12" stroke-width="5.4"/>
<path d="M964.4 226.2V237.8M958.4 226.2h12M958.4 237.8h12" stroke-width="5.4"/>
<path d="M993.0 188.8V206.4M987.0 188.8h12M987.0 206.4h12" stroke-width="5.4"/>
</g>
<path d="M648.9 175.0L655.9 182.0L648.9 189.0L641.9 182.0Z" fill="#0000ff"/>
<path d="M677.6 155.6L684.6 162.6L677.6 169.6L670.6 162.6Z" fill="#0000ff"/>
<path d="M706.2 143.5L713.2 150.5L706.2 157.5L699.2 150.5Z" fill="#0000ff"/>
<path d="M734.9 143.5L741.9 150.5L734.9 157.5L727.9 150.5Z" fill="#0000ff"/>
<path d="M763.6 136.7L770.6 143.7L763.6 150.7L756.6 143.7Z" fill="#0000ff"/>
<path d="M792.3 129.6L799.3 136.6L792.3 143.6L785.3 136.6Z" fill="#0000ff"/>
<path d="M821.0 123.5L828.0 130.5L821.0 137.5L814.0 130.5Z" fill="#0000ff"/>
<path d="M849.6 115.6L856.6 122.6L849.6 129.6L842.6 122.6Z" fill="#0000ff"/>
<path d="M878.3 115.6L885.3 122.6L878.3 129.6L871.3 122.6Z" fill="#0000ff"/>
<path d="M907.0 110.9L914.0 117.9L907.0 124.9L900.0 117.9Z" fill="#0000ff"/>
<path d="M935.7 258.0L942.7 265.0L935.7 272.0L928.7 265.0Z" fill="#0000ff"/>
<path d="M964.4 225.0L971.4 232.0L964.4 239.0L957.4 232.0Z" fill="#0000ff"/>
<path d="M993.0 190.6L1000.0 197.6L993.0 204.6L986.0 197.6Z" fill="#0000ff"/>
<path d="M1021.7 163.2L1028.7 170.2L1021.7 177.2L1014.7 170.2Z" fill="#0000ff"/>
<g stroke="#a259d9" stroke-width="4.7" stroke-linecap="round" stroke-linejoin="round" fill="none">
<path d="M648.9 181.0L677.6 174.0L706.2 158.0L734.9 156.0L763.6 152.0L792.3 137.6L821.0 135.8L849.6 134.7L878.3 132.1L907.0 131.0L935.7 268.0L964.4 218.4L993.0 191.6L1021.7 190.0"/>
<path d="M821.0 133.8V137.8M815.0 133.8h12M815.0 137.8h12" stroke-width="5.4"/>
<path d="M935.7 256.0V280.0M929.7 256.0h12M929.7 280.0h12" stroke-width="5.4"/>
<path d="M1021.7 181.5V198.5M1015.7 181.5h12M1015.7 198.5h12" stroke-width="5.4"/>
</g>
<path d="M648.9 187.8L655.3 176.2H642.5Z" fill="#a259d9"/>
<path d="M677.6 180.8L684.0 169.2H671.2Z" fill="#a259d9"/>
<path d="M706.2 164.8L712.6 153.2H699.8Z" fill="#a259d9"/>
<path d="M734.9 162.8L741.3 151.2H728.5Z" fill="#a259d9"/>
<path d="M763.6 158.8L770.0 147.2H757.2Z" fill="#a259d9"/>
<path d="M792.3 144.4L798.7 132.8H785.9Z" fill="#a259d9"/>
<path d="M821.0 142.6L827.4 131.0H814.6Z" fill="#a259d9"/>
<path d="M849.6 141.5L856.0 129.9H843.2Z" fill="#a259d9"/>
<path d="M878.3 138.9L884.7 127.3H871.9Z" fill="#a259d9"/>
<path d="M907.0 137.8L913.4 126.2H900.6Z" fill="#a259d9"/>
<path d="M935.7 274.8L942.1 263.2H929.3Z" fill="#a259d9"/>
<path d="M964.4 225.2L970.8 213.6H958.0Z" fill="#a259d9"/>
<path d="M993.0 198.4L999.4 186.8H986.6Z" fill="#a259d9"/>
<path d="M1021.7 196.8L1028.1 185.2H1015.3Z" fill="#a259d9"/>
<g stroke="#dc0000" stroke-width="4.7" stroke-linecap="round" stroke-linejoin="round" fill="none">
<path d="M648.9 183.5L677.6 177.4L706.2 166.8L734.9 152.1L763.6 147.4L792.3 146.8L821.0 139.5L849.6 140.0L878.3 135.3L907.0 132.9L935.7 308.0L964.4 266.5L993.0 233.2L1021.7 222.6"/>
<path d="M677.6 174.9V179.9M671.6 174.9h12M671.6 179.9h12" stroke-width="5.4"/>
<path d="M763.6 141.4V153.4M757.6 141.4h12M757.6 153.4h12" stroke-width="5.4"/>
<path d="M907.0 126.7V139.1M901.0 126.7h12M901.0 139.1h12" stroke-width="5.4"/>
<path d="M935.7 298.5V317.5M929.7 298.5h12M929.7 317.5h12" stroke-width="5.4"/>
<path d="M964.4 257.9V275.1M958.4 257.9h12M958.4 275.1h12" stroke-width="5.4"/>
</g>
<path d="M648.9 176.7L655.3 188.3H642.5Z" fill="#dc0000"/>
<path d="M677.6 170.6L684.0 182.2H671.2Z" fill="#dc0000"/>
<path d="M706.2 160.0L712.6 171.6H699.8Z" fill="#dc0000"/>
<path d="M734.9 145.3L741.3 156.9H728.5Z" fill="#dc0000"/>
<path d="M763.6 140.6L770.0 152.2H757.2Z" fill="#dc0000"/>
<path d="M792.3 140.0L798.7 151.6H785.9Z" fill="#dc0000"/>
<path d="M821.0 132.7L827.4 144.3H814.6Z" fill="#dc0000"/>
<path d="M849.6 133.2L856.0 144.8H843.2Z" fill="#dc0000"/>
<path d="M878.3 128.5L884.7 140.1H871.9Z" fill="#dc0000"/>
<path d="M907.0 126.1L913.4 137.7H900.6Z" fill="#dc0000"/>
<path d="M935.7 301.2L942.1 312.8H929.3Z" fill="#dc0000"/>
<path d="M964.4 259.7L970.8 271.3H958.0Z" fill="#dc0000"/>
<path d="M993.0 226.4L999.4 238.0H986.6Z" fill="#dc0000"/>
<path d="M1021.7 215.8L1028.1 227.4H1015.3Z" fill="#dc0000"/>
<g stroke="#000000" stroke-width="4.7" stroke-linecap="round" stroke-linejoin="round" fill="none">
<path d="M648.9 184.4L677.6 174.2L706.2 172.8L734.9 162.3L763.6 160.3L792.3 155.8L821.0 148.9L849.6 152.1L878.3 141.6L907.0 141.6L935.7 205.3L964.4 191.3L993.0 180.5L1021.7 173.7"/>
<path d="M907.0 134.8V148.4M901.0 134.8h12M901.0 148.4h12" stroke-width="5.4"/>
<path d="M935.7 196.4V214.2M929.7 196.4h12M929.7 214.2h12" stroke-width="5.4"/>
</g>
<rect x="643.1" y="178.6" width="11.6" height="11.6" fill="#000000"/>
<rect x="671.8" y="168.4" width="11.6" height="11.6" fill="#000000"/>
<rect x="700.4" y="167.0" width="11.6" height="11.6" fill="#000000"/>
<rect x="729.1" y="156.5" width="11.6" height="11.6" fill="#000000"/>
<rect x="757.8" y="154.5" width="11.6" height="11.6" fill="#000000"/>
<rect x="786.5" y="150.0" width="11.6" height="11.6" fill="#000000"/>
<rect x="815.2" y="143.1" width="11.6" height="11.6" fill="#000000"/>
<rect x="843.8" y="146.3" width="11.6" height="11.6" fill="#000000"/>
<rect x="872.5" y="135.8" width="11.6" height="11.6" fill="#000000"/>
<rect x="901.2" y="135.8" width="11.6" height="11.6" fill="#000000"/>
<rect x="929.9" y="199.5" width="11.6" height="11.6" fill="#000000"/>
<rect x="958.6" y="185.5" width="11.6" height="11.6" fill="#000000"/>
<rect x="987.2" y="174.7" width="11.6" height="11.6" fill="#000000"/>
<rect x="1015.9" y="167.9" width="11.6" height="11.6" fill="#000000"/>
<path d="M1079.8 55.9H1109.8" stroke="#000000" stroke-width="4.5" stroke-linecap="round"/>
<rect x="1089.2" y="50.4" width="11.0" height="11.0" fill="#000000"/>
<text transform="translate(1127.57 63.70) scale(1 1.04)" font-family='"Liberation Sans", Arial, sans-serif' font-size="22.90" stroke="#000" stroke-width="0.41" stroke-linejoin="round">Sham</text>
<path d="M1079.8 88.9H1109.8" stroke="#dc0000" stroke-width="4.5" stroke-linecap="round"/>
<path d="M1094.7 82.4L1100.8 93.4H1088.6Z" fill="#dc0000"/>
<text transform="translate(1126.77 96.70) scale(1 1.04)" font-family='"Liberation Sans", Arial, sans-serif' font-size="22.90" stroke="#000" stroke-width="0.41" stroke-linejoin="round">MCAO</text>
<path d="M1079.8 121.8H1109.8" stroke="#a259d9" stroke-width="4.5" stroke-linecap="round"/>
<path d="M1094.7 128.3L1100.8 117.3H1088.6Z" fill="#a259d9"/>
<text transform="translate(1126.77 129.60) scale(1 1.04)" font-family='"Liberation Sans", Arial, sans-serif' font-size="22.90" stroke="#000" stroke-width="0.41" stroke-linejoin="round">LM</text>
<path d="M1079.8 154.8H1109.8" stroke="#0000ff" stroke-width="4.5" stroke-linecap="round"/>
<path d="M1094.7 148.2L1101.4 154.8L1094.7 161.5L1088.0 154.8Z" fill="#0000ff"/>
<text transform="translate(1126.77 162.60) scale(1 1.04)" font-family='"Liberation Sans", Arial, sans-serif' font-size="22.90" stroke="#000" stroke-width="0.41" stroke-linejoin="round">HM</text>
<path d="M1079.8 187.5H1109.8" stroke="#edbb7f" stroke-width="4.5" stroke-linecap="round"/>
<circle cx="1094.7" cy="187.5" r="5.3" fill="#edbb7f"/>
<text transform="translate(1126.77 195.40) scale(1 1.04)" font-family='"Liberation Sans", Arial, sans-serif' font-size="22.90" stroke="#000" stroke-width="0.41" stroke-linejoin="round">HCK</text>
<text transform="translate(529.06 30.00) scale(1 1.04)" font-family='"Liberation Sans", Arial, sans-serif' font-size="37.25" stroke="#000" stroke-width="0.67" stroke-linejoin="round">B</text>
</g>
<g id="panel-d">
<path d="M191.1 782.0V580.2H244.3V782.0" fill="none" stroke="#dc0000" stroke-width="6.3" stroke-linejoin="miter"/>
<path d="M276.9 782.0V634.6H330.1V782.0" fill="none" stroke="#920ae0" stroke-width="6.3" stroke-linejoin="miter"/>
<path d="M362.8 782.0V699.4H416.0V782.0" fill="none" stroke="#0000ff" stroke-width="6.3" stroke-linejoin="miter"/>
<rect x="211.9" y="515.0" width="11.8" height="11.8" fill="#e17d81"/>
<rect x="188.9" y="578.1" width="11.8" height="11.8" fill="#e17d81"/>
<rect x="234.6" y="572.3" width="11.8" height="11.8" fill="#e17d81"/>
<rect x="211.9" y="624.6" width="11.8" height="11.8" fill="#e17d81"/>
<path d="M303.5 555.1L309.4 566.9H297.6Z" fill="#c58af5"/>
<path d="M303.5 624.6L309.4 636.4H297.6Z" fill="#c58af5"/>
<path d="M303.5 646.6L309.4 658.4H297.6Z" fill="#c58af5"/>
<path d="M303.5 682.1L309.4 693.9H297.6Z" fill="#c58af5"/>
<path d="M389.5 656.1L395.4 662.0L389.5 667.9L383.6 662.0Z" fill="#8c8cf5"/>
<path d="M412.4 686.7L418.3 692.6L412.4 698.5L406.5 692.6Z" fill="#8c8cf5"/>
<path d="M389.5 692.5L395.4 698.4L389.5 704.3L383.6 698.4Z" fill="#8c8cf5"/>
<path d="M389.5 727.3L395.4 733.2L389.5 739.1L383.6 733.2Z" fill="#8c8cf5"/>
<g stroke="#dc0000" stroke-width="6.6" stroke-linecap="round" fill="none"><path d="M217.7 533.7V622.9" stroke-linecap="butt"/><path d="M203.3 533.7H232.1"/><path d="M203.3 622.9H232.1"/></g>
<g stroke="#920ae0" stroke-width="6.6" stroke-linecap="round" fill="none"><path d="M303.5 579.7V685.8" stroke-linecap="butt"/><path d="M289.1 579.7H317.9"/><path d="M289.1 685.8H317.9"/></g>
<g stroke="#0000ff" stroke-width="6.6" stroke-linecap="round" fill="none"><path d="M389.4 669.0V725.5" stroke-linecap="butt"/><path d="M375.0 669.0H403.8"/><path d="M375.0 725.5H403.8"/></g>
<g stroke="#000" stroke-width="4.5" stroke-linecap="round" fill="none">
<path d="M88.8 491.6V780.1"/>
<path d="M80.2 778.5H88.8"/>
<path d="M80.2 721.4H88.8"/>
<path d="M80.2 664.2H88.8"/>
<path d="M80.2 607.0H88.8"/>
<path d="M80.2 549.9H88.8"/>
<path d="M80.2 492.8H88.8"/>
<path d="M88.8 778.5H519.6"/>
<path d="M131.8 778.5V787.6"/>
<path d="M217.7 778.5V787.6"/>
<path d="M303.5 778.5V787.6"/>
<path d="M389.4 778.5V787.6"/>
<path d="M475.3 778.5V787.6"/>
</g>
<path d="M104.5 774.6H159.5" stroke="#000" stroke-width="4.6" stroke-linecap="round"/>
<g fill="none" stroke="#000" stroke-width="2.3" stroke-linejoin="miter">
<path d="M108.6 772.2L114.6 778.4L108.6 784.6L102.6 778.4Z"/>
<path d="M123.9 772.2L129.9 778.4L123.9 784.6L117.9 778.4Z"/>
<path d="M139.3 772.2L145.3 778.4L139.3 784.6L133.3 778.4Z"/>
<path d="M154.6 772.2L160.6 778.4L154.6 784.6L148.6 778.4Z"/>
</g>
<path d="M447.8 774.4H503.2" stroke="#000" stroke-width="4.4" stroke-linecap="round"/>
<circle cx="452.5" cy="778.6" r="6.0" fill="#edbb7f"/>
<circle cx="467.7" cy="778.6" r="6.0" fill="#edbb7f"/>
<circle cx="483.0" cy="778.6" r="6.0" fill="#edbb7f"/>
<circle cx="498.3" cy="778.6" r="6.0" fill="#edbb7f"/>
<text transform="translate(65.39 786.10) scale(1 1.04)" font-family='"Liberation Sans", Arial, sans-serif' font-size="21.00" font-weight="700" stroke="#000" stroke-width="0.29" stroke-linejoin="round">0</text>
<text transform="translate(53.73 728.95) scale(1 1.04)" font-family='"Liberation Sans", Arial, sans-serif' font-size="21.00" font-weight="700" stroke="#000" stroke-width="0.29" stroke-linejoin="round">10</text>
<text transform="translate(53.73 671.80) scale(1 1.04)" font-family='"Liberation Sans", Arial, sans-serif' font-size="21.00" font-weight="700" stroke="#000" stroke-width="0.29" stroke-linejoin="round">20</text>
<text transform="translate(53.73 614.65) scale(1 1.04)" font-family='"Liberation Sans", Arial, sans-serif' font-size="21.00" font-weight="700" stroke="#000" stroke-width="0.29" stroke-linejoin="round">30</text>
<text transform="translate(53.73 557.50) scale(1 1.04)" font-family='"Liberation Sans", Arial, sans-serif' font-size="21.00" font-weight="700" stroke="#000" stroke-width="0.29" stroke-linejoin="round">40</text>
<text transform="translate(53.73 500.35) scale(1 1.04)" font-family='"Liberation Sans", Arial, sans-serif' font-size="21.00" font-weight="700" stroke="#000" stroke-width="0.29" stroke-linejoin="round">50</text>
<text transform="translate(31.80 787.62) rotate(-90) scale(1 1.04)" textLength="255.12" lengthAdjust="spacingAndGlyphs" font-family='"Liberation Sans", Arial, sans-serif' font-size="27.00" font-weight="700" stroke="#000" stroke-width="0.38" stroke-linejoin="round">infarct volume ratio</text>
<text transform="translate(31.80 521.95) rotate(-90) scale(1 1.04)" textLength="45.00" lengthAdjust="spacingAndGlyphs" font-family='"Liberation Sans", Arial, sans-serif' font-size="27.00" font-weight="700" stroke="#000" stroke-width="0.38" stroke-linejoin="round">(%)</text>
<text transform="translate(96.64 848.34) rotate(-45) scale(1 1.04)" font-family='"Liberation Sans", Arial, sans-serif' font-size="21.92" font-weight="700" stroke="#000" stroke-width="0.31" stroke-linejoin="round">Sham</text>
<text transform="translate(178.09 853.57) rotate(-45) scale(1 1.04)" font-family='"Liberation Sans", Arial, sans-serif' font-size="21.96" font-weight="700" stroke="#000" stroke-width="0.31" stroke-linejoin="round">MCAO</text>
<text transform="translate(288.34 828.45) rotate(-45) scale(1 1.04)" font-family='"Liberation Sans", Arial, sans-serif' font-size="21.66" font-weight="700" stroke="#000" stroke-width="0.30" stroke-linejoin="round">LM</text>
<text transform="translate(372.58 830.25) rotate(-45) scale(1 1.04)" font-family='"Liberation Sans", Arial, sans-serif' font-size="21.74" font-weight="700" stroke="#000" stroke-width="0.30" stroke-linejoin="round">HM</text>
<text transform="translate(449.08 839.98) rotate(-45) scale(1 1.04)" font-family='"Liberation Sans", Arial, sans-serif' font-size="21.96" font-weight="700" stroke="#000" stroke-width="0.31" stroke-linejoin="round">HCK</text>
<text transform="translate(188.96 511.05) scale(1 1.150)" font-family='"Liberation Serif", "Times New Roman", serif' font-size="33.86" stroke="#000" stroke-width="0.3">***</text>
<text transform="translate(296.83 540.90) scale(1 0.924)" font-family='"Liberation Serif", "Times New Roman", serif' font-size="33.48" stroke="#000" stroke-width="0.2">#</text>
<text transform="translate(373.63 634.90) scale(1 0.920)" font-family='"Liberation Serif", "Times New Roman", serif' font-size="33.62" letter-spacing="3.03" stroke="#000" stroke-width="0.2">##</text>
<text transform="translate(2.29 468.50) scale(1 1.04)" font-family='"Liberation Sans", Arial, sans-serif' font-size="36.70" stroke="#000" stroke-width="0.66" stroke-linejoin="round">D</text>
</g>
<g id="panel-e">
<path d="M708.4 546.2C708.0 547.2 707.5 549.9 706.0 552.0C704.5 554.1 699.8 556.5 699.5 559.0C699.2 561.5 703.2 564.2 704.5 567.0C705.8 569.8 707.0 572.7 707.3 575.5C707.5 578.3 705.6 581.6 706.0 584.0C706.4 586.4 707.0 587.9 709.5 590.0C712.0 592.1 717.9 594.2 721.0 596.5C724.1 598.8 728.2 601.5 728.2 604.0C728.2 606.5 724.1 609.2 721.0 611.5C717.9 613.8 712.1 616.1 709.5 618.0C706.9 619.9 705.6 621.3 705.2 623.0C704.8 624.7 706.5 626.3 707.0 628.0C707.5 629.7 708.2 632.3 708.4 633.2L693.6 633.2C693.8 632.3 694.5 629.7 695.0 628.0C695.5 626.3 697.2 624.7 696.8 623.0C696.4 621.3 695.1 619.9 692.5 618.0C689.9 616.1 684.1 613.8 681.0 611.5C677.9 609.2 673.8 606.5 673.8 604.0C673.8 601.5 677.9 598.8 681.0 596.5C684.1 594.2 690.0 592.1 692.5 590.0C695.0 587.9 695.6 586.4 696.0 584.0C696.4 581.6 694.5 578.3 694.7 575.5C695.0 572.7 696.2 569.8 697.5 567.0C698.8 564.2 702.8 561.5 702.5 559.0C702.2 556.5 697.5 554.1 696.0 552.0C694.5 549.9 694.0 547.2 693.6 546.2Z" fill="none" stroke="#dc0000" stroke-width="5.8" stroke-linejoin="round"/>
<path d="M676 604H726" stroke="#dc0000" stroke-width="3" stroke-dasharray="4 3"/>
<path d="M813.8 660.8C813.4 661.5 813.5 663.3 811.3 665.0C809.1 666.7 802.8 669.1 800.8 671.0C798.8 672.9 798.8 674.7 799.0 676.5C799.2 678.3 799.8 680.2 801.8 682.0C803.8 683.8 809.3 685.5 811.3 687.0C813.3 688.5 813.8 689.5 813.8 690.8C813.8 692.1 813.5 693.3 811.3 695.0C809.1 696.7 803.4 699.0 800.8 701.0C798.2 703.0 796.8 705.0 795.8 707.0C794.8 709.0 794.8 710.9 794.8 713.0C794.8 715.1 795.6 718.3 795.8 719.4L777.8 719.4C778.0 718.3 778.8 715.1 778.8 713.0C778.8 710.9 778.8 709.0 777.8 707.0C776.8 705.0 775.4 703.0 772.8 701.0C770.2 699.0 764.5 696.7 762.3 695.0C760.1 693.3 759.8 692.1 759.8 690.8C759.8 689.5 760.3 688.5 762.3 687.0C764.3 685.5 769.8 683.8 771.8 682.0C773.8 680.2 774.4 678.3 774.6 676.5C774.8 674.7 774.8 672.9 772.8 671.0C770.8 669.1 764.5 666.7 762.3 665.0C760.1 663.3 760.2 661.5 759.8 660.8Z" fill="none" stroke="#920ae0" stroke-width="5.8" stroke-linejoin="round"/>
<path d="M762 690.6H812" stroke="#920ae0" stroke-width="3"/>
<path d="M882.0 661.8C882.0 663.5 882.1 668.3 882.2 672.0C882.3 675.7 882.4 680.3 882.8 684.0C883.2 687.7 883.5 690.8 884.6 694.0C885.7 697.2 887.7 700.2 889.6 703.0C891.5 705.8 894.4 708.2 896.1 711.0C897.8 713.8 899.7 716.9 899.6 719.6C899.5 722.3 897.0 724.6 895.6 727.0C894.2 729.4 892.2 731.7 891.4 734.0C890.6 736.3 890.8 738.8 890.8 741.0C890.8 743.2 891.1 746.2 891.2 747.2L854.0 747.2C854.1 746.2 854.4 743.2 854.4 741.0C854.4 738.8 854.6 736.3 853.8 734.0C853.0 731.7 851.0 729.4 849.6 727.0C848.2 724.6 845.7 722.3 845.6 719.6C845.5 716.9 847.4 713.8 849.1 711.0C850.8 708.2 853.7 705.8 855.6 703.0C857.5 700.2 859.5 697.2 860.6 694.0C861.7 690.8 862.0 687.7 862.4 684.0C862.8 680.3 862.9 675.7 863.0 672.0C863.1 668.3 863.2 663.5 863.2 661.8Z" fill="none" stroke="#0000ff" stroke-width="5.8" stroke-linejoin="round"/>
<path d="M848 719.7H897" stroke="#0000ff" stroke-width="3"/>
<rect x="690.7" y="542.6" width="8.4" height="8.4" fill="#e17d81"/>
<rect x="690.7" y="571.0" width="8.4" height="8.4" fill="#e17d81"/>
<rect x="679.5" y="599.8" width="8.4" height="8.4" fill="#e17d81"/>
<rect x="691.0" y="599.8" width="8.4" height="8.4" fill="#e17d81"/>
<rect x="702.6" y="599.8" width="8.4" height="8.4" fill="#e17d81"/>
<rect x="714.3" y="599.8" width="8.4" height="8.4" fill="#e17d81"/>
<rect x="690.7" y="628.0" width="8.4" height="8.4" fill="#e17d81"/>
<path d="M769.5 655.7L774.8 666.3H764.2Z" fill="#c58af5"/>
<path d="M786.7 655.7L792.0 666.3H781.4Z" fill="#c58af5"/>
<path d="M804.2 655.7L809.5 666.3H798.9Z" fill="#c58af5"/>
<path d="M769.5 684.7L774.8 695.3H764.2Z" fill="#c58af5"/>
<path d="M786.7 684.7L792.0 695.3H781.4Z" fill="#c58af5"/>
<path d="M804.2 684.7L809.5 695.3H798.9Z" fill="#c58af5"/>
<path d="M786.7 713.4L792.0 724.0H781.4Z" fill="#c58af5"/>
<path d="M872.6 654.4L879.2 661.0L872.6 667.6L866.0 661.0Z" fill="#8a8af7"/>
<path d="M872.6 683.5L879.2 690.1L872.6 696.7L866.0 690.1Z" fill="#8a8af7"/>
<path d="M849.5 713.1L856.1 719.7L849.5 726.3L842.9 719.7Z" fill="#8a8af7"/>
<path d="M872.6 713.1L879.2 719.7L872.6 726.3L866.0 719.7Z" fill="#8a8af7"/>
<path d="M895.8 713.1L902.4 719.7L895.8 726.3L889.2 719.7Z" fill="#8a8af7"/>
<path d="M849.5 740.4L856.1 747.0L849.5 753.6L842.9 747.0Z" fill="#8a8af7"/>
<path d="M895.8 740.4L902.4 747.0L895.8 753.6L889.2 747.0Z" fill="#8a8af7"/>
<g fill="none" stroke="#000" stroke-width="2.0">
<path d="M585.8000000000001 775.9L592.1 769.6L598.4 775.9"/>
<path d="M599.7 769.6L606.0 775.9L599.7 782.2L593.4000000000001 775.9Z"/>
<path d="M601.1 775.9L607.4 769.6L613.6999999999999 775.9"/>
<path d="M608.7 775.9L615.0 769.6L621.3 775.9"/>
<path d="M622.7 769.6L629.0 775.9L622.7 782.2L616.4000000000001 775.9Z"/>
<path d="M624.1 775.9L630.4 769.6L636.6999999999999 775.9"/>
<path d="M631.7 775.9L638.0 769.6L644.3 775.9"/>
</g>
<g stroke="#000" stroke-width="4.5" stroke-linecap="round" fill="none">
<path d="M572.3 488.2V777.6"/>
<path d="M564.4 776.0H572.3"/>
<path d="M564.4 718.7H572.3"/>
<path d="M564.4 661.4H572.3"/>
<path d="M564.4 604.0H572.3"/>
<path d="M564.4 546.7H572.3"/>
<path d="M564.4 489.4H572.3"/>
<path d="M572.3 776.0H1003.0"/>
<path d="M614.9 776.0V784.8"/>
<path d="M700.8 776.0V784.8"/>
<path d="M786.7 776.0V784.8"/>
<path d="M872.6 776.0V784.8"/>
<path d="M958.6 776.0V784.8"/>
</g>
<clipPath id="ehck"><rect x="920" y="760" width="80" height="16.6"/></clipPath><g clip-path="url(#ehck)" fill="#edbb7f">
<circle cx="935.8" cy="775.9" r="7.0"/>
<circle cx="943.4" cy="775.9" r="7.0"/>
<circle cx="951.0" cy="775.9" r="7.0"/>
<circle cx="958.6" cy="775.9" r="7.0"/>
<circle cx="966.2" cy="775.9" r="7.0"/>
<circle cx="973.8" cy="775.9" r="7.0"/>
<circle cx="981.4" cy="775.9" r="7.0"/>
</g>
<text transform="translate(549.38 783.60) scale(1 1.04)" font-family='"Liberation Sans", Arial, sans-serif' font-size="21.00" font-weight="700" stroke="#000" stroke-width="0.29" stroke-linejoin="round">0</text>
<text transform="translate(549.07 726.28) scale(1 1.04)" font-family='"Liberation Sans", Arial, sans-serif' font-size="21.00" font-weight="700" stroke="#000" stroke-width="0.29" stroke-linejoin="round">1</text>
<text transform="translate(549.38 668.96) scale(1 1.04)" font-family='"Liberation Sans", Arial, sans-serif' font-size="21.00" font-weight="700" stroke="#000" stroke-width="0.29" stroke-linejoin="round">2</text>
<text transform="translate(549.28 611.64) scale(1 1.04)" font-family='"Liberation Sans", Arial, sans-serif' font-size="21.00" font-weight="700" stroke="#000" stroke-width="0.29" stroke-linejoin="round">3</text>
<text transform="translate(548.65 554.32) scale(1 1.04)" font-family='"Liberation Sans", Arial, sans-serif' font-size="21.00" font-weight="700" stroke="#000" stroke-width="0.29" stroke-linejoin="round">4</text>
<text transform="translate(549.07 497.00) scale(1 1.04)" font-family='"Liberation Sans", Arial, sans-serif' font-size="21.00" font-weight="700" stroke="#000" stroke-width="0.29" stroke-linejoin="round">5</text>
<text transform="translate(522.30 748.84) rotate(-90) scale(1 1.04)" textLength="224.16" lengthAdjust="spacingAndGlyphs" font-family='"Liberation Sans", Arial, sans-serif' font-size="21.60" font-weight="700" stroke="#000" stroke-width="0.30" stroke-linejoin="round">neurological score</text>
<text transform="translate(580.08 845.62) rotate(-45) scale(1 1.04)" font-family='"Liberation Sans", Arial, sans-serif' font-size="21.74" font-weight="700" stroke="#000" stroke-width="0.30" stroke-linejoin="round">Sham</text>
<text transform="translate(661.29 850.57) rotate(-45) scale(1 1.04)" font-family='"Liberation Sans", Arial, sans-serif' font-size="21.96" font-weight="700" stroke="#000" stroke-width="0.31" stroke-linejoin="round">MCAO</text>
<text transform="translate(771.58 825.88) rotate(-45) scale(1 1.04)" font-family='"Liberation Sans", Arial, sans-serif' font-size="21.69" font-weight="700" stroke="#000" stroke-width="0.30" stroke-linejoin="round">LM</text>
<text transform="translate(855.75 827.48) rotate(-45) scale(1 1.04)" font-family='"Liberation Sans", Arial, sans-serif' font-size="21.84" font-weight="700" stroke="#000" stroke-width="0.31" stroke-linejoin="round">HM</text>
<text transform="translate(932.13 837.18) rotate(-45) scale(1 1.04)" font-family='"Liberation Sans", Arial, sans-serif' font-size="22.06" font-weight="700" stroke="#000" stroke-width="0.31" stroke-linejoin="round">HCK</text>
<text transform="translate(693.26 525.12) scale(1 1.200)" font-family='"Liberation Serif", "Times New Roman", serif' font-size="31.75" stroke="#000" stroke-width="0.3">*</text>
<text transform="translate(777.08 626.55) scale(1 0.934)" font-family='"Liberation Serif", "Times New Roman", serif' font-size="33.26" stroke="#000" stroke-width="0.5">#</text>
<text transform="translate(858.72 626.55) scale(1 0.988)" font-family='"Liberation Serif", "Times New Roman", serif' font-size="31.46" stroke="#000" stroke-width="0.5">##</text>
<text transform="translate(594.59 475.10) scale(1 1.04)" font-family='"Liberation Sans", Arial, sans-serif' font-size="35.35" stroke="#000" stroke-width="0.64" stroke-linejoin="round">E</text>
</g>
<g id="panel-f">
<path d="M1130.4 776.8L1134.4 780.8L1130.4 784.8L1126.4 780.8Z" fill="#000"/>
<path d="M1134.9 775.4L1138.9 779.4L1134.9 783.4L1130.9 779.4Z" fill="#000"/>
<path d="M1139.4 776.0L1143.4 780.0L1139.4 784.0L1135.4 780.0Z" fill="#000"/>
<path d="M1143.9 776.4L1147.9 780.4L1143.9 784.4L1139.9 780.4Z" fill="#000"/>
<path d="M1146.4 777.2L1150.4 781.2L1146.4 785.2L1142.4 781.2Z" fill="#000"/>
<path d="M1128.4 777.6L1132.4 781.6L1128.4 785.6L1124.4 781.6Z" fill="#000"/>
<path d="M1162.3 785.2V754.6H1181.1V785.2" fill="none" stroke="#dc0000" stroke-width="4.4"/>
<rect x="1164.3" y="746.6" width="6.8" height="6.8" fill="#dc0000"/>
<rect x="1172.3" y="748.1" width="6.8" height="6.8" fill="#dc0000"/>
<rect x="1168.3" y="753.6" width="6.8" height="6.8" fill="#dc0000"/>
<rect x="1165.3" y="759.6" width="6.8" height="6.8" fill="#dc0000"/>
<rect x="1171.3" y="760.6" width="6.8" height="6.8" fill="#dc0000"/>
<rect x="1168.3" y="767.1" width="6.8" height="6.8" fill="#dc0000"/>
<g stroke="#dc0000" stroke-width="4.2" stroke-linecap="round" fill="none"><path d="M1171.7 749.0V760.5" stroke-linecap="butt"/><path d="M1166.5 749.0H1176.9"/><path d="M1166.5 760.5H1176.9"/></g>
<path d="M1196.2 785.2V760.6H1215.0V785.2" fill="none" stroke="#920ae0" stroke-width="4.4"/>
<path d="M1208.1 749.4L1212.0 756.6H1204.2Z" fill="#5a0e9c"/>
<path d="M1200.6 756.4L1204.5 763.6H1196.7Z" fill="#5a0e9c"/>
<path d="M1211.6 756.9L1215.5 764.1H1207.7Z" fill="#5a0e9c"/>
<path d="M1205.6 759.4L1209.5 766.6H1201.7Z" fill="#5a0e9c"/>
<path d="M1201.6 764.4L1205.5 771.6H1197.7Z" fill="#5a0e9c"/>
<g stroke="#5a0e9c" stroke-width="4.2" stroke-linecap="round" fill="none"><path d="M1205.6 756.0V765.0" stroke-linecap="butt"/><path d="M1200.4 756.0H1210.8"/><path d="M1200.4 765.0H1210.8"/></g>
<path d="M1229.8 785.2V766.0H1248.6V785.2" fill="none" stroke="#0000ff" stroke-width="4.4"/>
<path d="M1232.7 766.6L1236.6 759.4H1228.8Z" fill="#0000ff"/>
<path d="M1245.7 767.1L1249.6 759.9H1241.8Z" fill="#0000ff"/>
<path d="M1239.2 769.6L1243.1 762.4H1235.3Z" fill="#0000ff"/>
<path d="M1236.2 774.6L1240.1 767.4H1232.3Z" fill="#0000ff"/>
<path d="M1242.2 774.6L1246.1 767.4H1238.3Z" fill="#0000ff"/>
<g stroke="#0000ff" stroke-width="4.2" stroke-linecap="round" fill="none"><path d="M1239.2 762.5V769.5" stroke-linecap="butt"/><path d="M1234.0 762.5H1244.4"/><path d="M1234.0 769.5H1244.4"/></g>
<path d="M1319.4 785.2V768.0H1338.2V785.2" fill="none" stroke="#000" stroke-width="4.4"/>
<path d="M1328.8 740.4L1332.8 744.4L1328.8 748.4L1324.8 744.4Z" fill="#000"/>
<path d="M1336.3 757.3L1340.3 761.3L1336.3 765.3L1332.3 761.3Z" fill="#000"/>
<path d="M1324.8 764.0L1328.8 768.0L1324.8 772.0L1320.8 768.0Z" fill="#000"/>
<path d="M1332.8 771.0L1336.8 775.0L1332.8 779.0L1328.8 775.0Z" fill="#000"/>
<path d="M1324.8 773.0L1328.8 777.0L1324.8 781.0L1320.8 777.0Z" fill="#000"/>
<g stroke="#000" stroke-width="4.2" stroke-linecap="round" fill="none"><path d="M1328.8 754.2V780.0" stroke-linecap="butt"/><path d="M1323.6 754.2H1334.0"/><path d="M1323.6 780.0H1334.0"/></g>
<path d="M1353.0 785.2V640.0H1371.8V785.2" fill="none" stroke="#dc0000" stroke-width="4.4"/>
<rect x="1351.0" y="581.9" width="6.8" height="6.8" fill="#dc0000"/>
<rect x="1366.8" y="584.1" width="6.8" height="6.8" fill="#dc0000"/>
<rect x="1359.0" y="612.7" width="6.8" height="6.8" fill="#dc0000"/>
<rect x="1359.0" y="650.6" width="6.8" height="6.8" fill="#dc0000"/>
<rect x="1359.0" y="696.1" width="6.8" height="6.8" fill="#dc0000"/>
<g stroke="#dc0000" stroke-width="4.2" stroke-linecap="round" fill="none"><path d="M1362.4 587.5V687.7" stroke-linecap="butt"/><path d="M1357.2 587.5H1367.6"/><path d="M1357.2 687.7H1367.6"/></g>
<path d="M1386.9 785.2V661.0H1405.7V785.2" fill="none" stroke="#920ae0" stroke-width="4.4"/>
<path d="M1396.3 597.9L1400.2 605.1H1392.4Z" fill="#5a0e9c"/>
<path d="M1396.3 616.4L1400.2 623.6H1392.4Z" fill="#5a0e9c"/>
<path d="M1396.3 626.4L1400.2 633.6H1392.4Z" fill="#5a0e9c"/>
<path d="M1396.3 664.4L1400.2 671.6H1392.4Z" fill="#5a0e9c"/>
<path d="M1396.3 732.7L1400.2 739.9H1392.4Z" fill="#5a0e9c"/>
<g stroke="#5a0e9c" stroke-width="4.2" stroke-linecap="round" fill="none"><path d="M1396.3 605.0V713.0" stroke-linecap="butt"/><path d="M1391.1 605.0H1401.5"/><path d="M1391.1 713.0H1401.5"/></g>
<path d="M1420.3 785.2V704.6H1439.1V785.2" fill="none" stroke="#0000ff" stroke-width="4.4"/>
<path d="M1429.7 652.9L1433.6 645.7H1425.8Z" fill="#0000ff"/>
<path d="M1429.7 675.6L1433.6 668.4H1425.8Z" fill="#0000ff"/>
<path d="M1429.7 735.6L1433.6 728.4H1425.8Z" fill="#0000ff"/>
<path d="M1429.7 748.1L1433.6 740.9H1425.8Z" fill="#0000ff"/>
<g stroke="#0000ff" stroke-width="4.2" stroke-linecap="round" fill="none"><path d="M1429.7 668.0V738.8" stroke-linecap="butt"/><path d="M1424.5 668.0H1434.9"/><path d="M1424.5 738.8H1434.9"/></g>
<path d="M1454.3 785.2V775.2H1473.1V785.2" fill="none" stroke="#edbb7f" stroke-width="4.4"/>
<g stroke="#edbb7f" stroke-width="4.2" stroke-linecap="round" fill="none"><path d="M1463.7 770.0V780.0" stroke-linecap="butt"/><path d="M1458.5 770.0H1468.9"/><path d="M1458.5 780.0H1468.9"/></g>
<path d="M1510.1 785.2V743.1H1528.9V785.2" fill="none" stroke="#000" stroke-width="4.4"/>
<path d="M1519.5 666.7L1523.5 670.7L1519.5 674.7L1515.5 670.7Z" fill="#000"/>
<path d="M1519.5 724.0L1523.5 728.0L1519.5 732.0L1515.5 728.0Z" fill="#000"/>
<path d="M1514.5 744.0L1518.5 748.0L1514.5 752.0L1510.5 748.0Z" fill="#000"/>
<path d="M1524.5 753.0L1528.5 757.0L1524.5 761.0L1520.5 757.0Z" fill="#000"/>
<path d="M1514.5 766.0L1518.5 770.0L1514.5 774.0L1510.5 770.0Z" fill="#000"/>
<path d="M1523.5 772.0L1527.5 776.0L1523.5 780.0L1519.5 776.0Z" fill="#000"/>
<g stroke="#000" stroke-width="4.2" stroke-linecap="round" fill="none"><path d="M1519.5 703.7V781.0" stroke-linecap="butt"/><path d="M1514.3 703.7H1524.7"/></g>
<path d="M1543.9 785.2V532.8H1562.7V785.2" fill="none" stroke="#dc0000" stroke-width="4.4"/>
<rect x="1542.3" y="494.4" width="6.8" height="6.8" fill="#dc0000"/>
<rect x="1549.9" y="514.3" width="6.8" height="6.8" fill="#dc0000"/>
<rect x="1549.9" y="529.6" width="6.8" height="6.8" fill="#dc0000"/>
<rect x="1549.9" y="554.0" width="6.8" height="6.8" fill="#dc0000"/>
<rect x="1549.9" y="575.9" width="6.8" height="6.8" fill="#dc0000"/>
<g stroke="#dc0000" stroke-width="4.2" stroke-linecap="round" fill="none"><path d="M1553.3 499.8V564.2" stroke-linecap="butt"/><path d="M1548.1 499.8H1558.5"/><path d="M1548.1 564.2H1558.5"/></g>
<path d="M1577.6 785.2V553.4H1596.4V785.2" fill="none" stroke="#920ae0" stroke-width="4.4"/>
<path d="M1587.0 506.1L1590.9 513.3H1583.1Z" fill="#5a0e9c"/>
<path d="M1595.4 533.1L1599.3 540.3H1591.5Z" fill="#5a0e9c"/>
<path d="M1579.5 559.0L1583.4 566.2H1575.6Z" fill="#5a0e9c"/>
<path d="M1587.0 571.4L1590.9 578.6H1583.1Z" fill="#5a0e9c"/>
<path d="M1587.0 590.8L1590.9 598.0H1583.1Z" fill="#5a0e9c"/>
<g stroke="#5a0e9c" stroke-width="4.2" stroke-linecap="round" fill="none"><path d="M1587.0 522.4V580.5" stroke-linecap="butt"/><path d="M1581.8 522.4H1592.2"/><path d="M1581.8 580.5H1592.2"/></g>
<path d="M1611.4 785.2V646.0H1630.2V785.2" fill="none" stroke="#0000ff" stroke-width="4.4"/>
<path d="M1620.8 545.9L1624.7 538.7H1616.9Z" fill="#0000ff"/>
<path d="M1620.8 605.6L1624.7 598.4H1616.9Z" fill="#0000ff"/>
<path d="M1620.8 618.6L1624.7 611.4H1616.9Z" fill="#0000ff"/>
<path d="M1620.8 671.6L1624.7 664.4H1616.9Z" fill="#0000ff"/>
<path d="M1620.8 699.6L1624.7 692.4H1616.9Z" fill="#0000ff"/>
<path d="M1620.8 738.7L1624.7 731.5H1616.9Z" fill="#0000ff"/>
<g stroke="#0000ff" stroke-width="4.2" stroke-linecap="round" fill="none"><path d="M1620.8 574.5V715.3" stroke-linecap="butt"/><path d="M1615.6 574.5H1626.0"/><path d="M1615.6 715.3H1626.0"/></g>
<path d="M1645.6 785.2V758.2H1664.4V785.2" fill="none" stroke="#edbb7f" stroke-width="4.4"/>
<g stroke="#edbb7f" stroke-width="4.2" stroke-linecap="round" fill="none"><path d="M1655.0 746.3V770.0" stroke-linecap="butt"/><path d="M1649.8 746.3H1660.2"/><path d="M1649.8 770.0H1660.2"/></g>
<g stroke="#000" stroke-width="4.4" stroke-linecap="round" fill="none">
<path d="M1115.4 459.6V785.5"/>
<path d="M1106.6 783.7H1115.4"/>
<path d="M1106.6 676.3H1115.4"/>
<path d="M1106.6 569.0H1115.4"/>
<path d="M1106.6 461.6H1115.4"/>
<path d="M1115.4 783.7H1679.6"/>
<path d="M1205.2 783.7V793.6"/>
<path d="M1396.0 783.7V793.6"/>
<path d="M1586.8 783.7V793.6"/>
</g>
<circle cx="1265.6" cy="782.5" r="3.6" fill="#edbb7f"/>
<circle cx="1270.5" cy="782.5" r="3.6" fill="#edbb7f"/>
<circle cx="1275.5" cy="782.5" r="3.6" fill="#edbb7f"/>
<circle cx="1280.4" cy="782.5" r="3.6" fill="#edbb7f"/>
<circle cx="1463.7" cy="766.0" r="3.6" fill="#edbb7f"/>
<circle cx="1457.7" cy="772.0" r="3.6" fill="#edbb7f"/>
<circle cx="1469.7" cy="776.0" r="3.6" fill="#edbb7f"/>
<circle cx="1456.7" cy="779.0" r="3.6" fill="#edbb7f"/>
<circle cx="1465.7" cy="779.5" r="3.6" fill="#edbb7f"/>
<circle cx="1655.0" cy="741.1" r="3.6" fill="#edbb7f"/>
<circle cx="1650.0" cy="755.0" r="3.6" fill="#edbb7f"/>
<circle cx="1661.0" cy="758.0" r="3.6" fill="#edbb7f"/>
<circle cx="1650.0" cy="766.0" r="3.6" fill="#edbb7f"/>
<circle cx="1660.0" cy="770.0" r="3.6" fill="#edbb7f"/>
<text transform="translate(1089.24 792.50) scale(1 1.04)" font-family='"Liberation Sans", Arial, sans-serif' font-size="24.00" font-weight="700" stroke="#000" stroke-width="0.34" stroke-linejoin="round">0</text>
<text transform="translate(1062.60 685.14) scale(1 1.04)" font-family='"Liberation Sans", Arial, sans-serif' font-size="24.00" font-weight="700" stroke="#000" stroke-width="0.34" stroke-linejoin="round">200</text>
<text transform="translate(1062.60 577.78) scale(1 1.04)" font-family='"Liberation Sans", Arial, sans-serif' font-size="24.00" font-weight="700" stroke="#000" stroke-width="0.34" stroke-linejoin="round">400</text>
<text transform="translate(1062.60 470.42) scale(1 1.04)" font-family='"Liberation Sans", Arial, sans-serif' font-size="24.00" font-weight="700" stroke="#000" stroke-width="0.34" stroke-linejoin="round">600</text>
<text transform="translate(1044.90 650.54) rotate(-90) scale(1 1.04)" textLength="80.23" lengthAdjust="spacingAndGlyphs" font-family='"Liberation Sans", Arial, sans-serif' font-size="26.00" font-weight="700" stroke="#000" stroke-width="0.36" stroke-linejoin="round">pg/mL</text>
<text transform="translate(1174.39 853.75) rotate(-45) scale(1 1.04)" font-family='"Liberation Sans", Arial, sans-serif' font-size="24.34" font-weight="700" stroke="#000" stroke-width="0.34" stroke-linejoin="round">TNF-α</text>
<text transform="translate(1368.21 851.01) rotate(-45) scale(1 1.04)" font-family='"Liberation Sans", Arial, sans-serif' font-size="25.17" font-weight="700" stroke="#000" stroke-width="0.35" stroke-linejoin="round">IL-10</text>
<text transform="translate(1558.92 852.38) rotate(-45) scale(1 1.04)" font-family='"Liberation Sans", Arial, sans-serif' font-size="23.57" font-weight="700" stroke="#000" stroke-width="0.33" stroke-linejoin="round">IL-1β</text>
<text transform="translate(1143.41 730.45) scale(1 1.122)" font-family='"Liberation Serif", "Times New Roman", serif' font-size="32.39" stroke="#000" stroke-width="0.25">***</text>
<text transform="translate(1231.63 737.50) scale(1 1.043)" font-family='"Liberation Serif", "Times New Roman", serif' font-size="28.48">#</text>
<text transform="translate(1334.31 562.31) scale(1 1.172)" font-family='"Liberation Serif", "Times New Roman", serif' font-size="32.39" stroke="#000" stroke-width="0.25">***</text>
<text transform="translate(1416.76 614.70) scale(1 1.057)" font-family='"Liberation Serif", "Times New Roman", serif' font-size="26.77">##</text>
<text transform="translate(1528.41 490.91) scale(1 1.172)" font-family='"Liberation Serif", "Times New Roman", serif' font-size="32.39" stroke="#000" stroke-width="0.25">***</text>
<text transform="translate(1614.14 527.20) scale(1 1.067)" font-family='"Liberation Serif", "Times New Roman", serif' font-size="27.83">#</text>
<path d="M1691.8 473.1L1697.1 478.4L1691.8 483.7L1686.5 478.4Z" fill="#000"/>
<text transform="translate(1711.08 482.90) scale(1 1.04)" font-family='"Liberation Sans", Arial, sans-serif' font-size="18.30" stroke="#000" stroke-width="0.33" stroke-linejoin="round">Sham</text>
<rect x="1687.3" y="503.6" width="9.0" height="9.0" fill="#dc0000"/>
<text transform="translate(1710.44 513.60) scale(1 1.04)" font-family='"Liberation Sans", Arial, sans-serif' font-size="18.30" stroke="#000" stroke-width="0.33" stroke-linejoin="round">MCAO</text>
<path d="M1691.8 533.1L1696.9 542.7H1686.7Z" fill="#5a0e9c"/>
<text transform="translate(1710.44 543.60) scale(1 1.04)" font-family='"Liberation Sans", Arial, sans-serif' font-size="18.30" stroke="#000" stroke-width="0.33" stroke-linejoin="round">LM</text>
<path d="M1691.8 571.2L1696.9 561.6H1686.7Z" fill="#0000ff"/>
<text transform="translate(1710.44 573.80) scale(1 1.04)" font-family='"Liberation Sans", Arial, sans-serif' font-size="18.30" stroke="#000" stroke-width="0.33" stroke-linejoin="round">HM</text>
<circle cx="1691.8" cy="596.2" r="4.8" fill="#f0c896"/>
<text transform="translate(1710.44 604.20) scale(1 1.04)" font-family='"Liberation Sans", Arial, sans-serif' font-size="18.30" stroke="#000" stroke-width="0.33" stroke-linejoin="round">HCK</text>
<text transform="translate(1005.24 472.30) scale(1 1.04)" font-family='"Liberation Sans", Arial, sans-serif' font-size="34.65" stroke="#000" stroke-width="0.62" stroke-linejoin="round">F</text>
</g>
</svg>
</body>
</html>
